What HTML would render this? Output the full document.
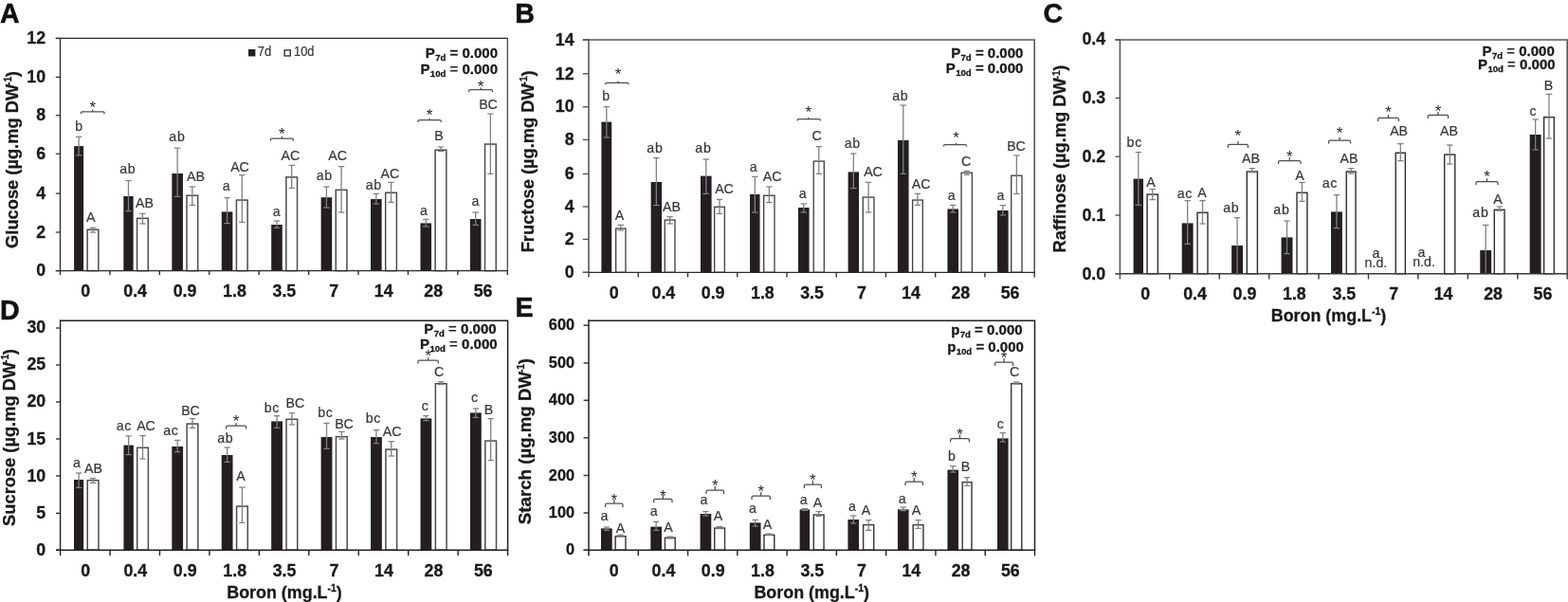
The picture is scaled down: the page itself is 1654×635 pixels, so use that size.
<!DOCTYPE html>
<html lang="en">
<head>
<meta charset="utf-8">
<title>Soluble sugars and starch under boron treatments</title>
<style>
html,body{margin:0;padding:0;background:#fff;}
body{width:1654px;height:635px;overflow:hidden;}
svg{display:block;font-family:"Liberation Sans",Arial,Helvetica,sans-serif;}
</style>
</head>
<body>
<svg width="1654" height="635" viewBox="0 0 1654 635">
<rect width="1654" height="635" fill="#fff"/>
<g>
<rect x="78.1" y="154.1" width="10" height="131.5" fill="#231f20"/>
<line x1="83.1" y1="144.3" x2="83.1" y2="163.8" stroke="#7f7f85" stroke-width="1.3"/>
<line x1="79.9" y1="144.3" x2="86.3" y2="144.3" stroke="#7f7f85" stroke-width="1.25"/>
<line x1="79.9" y1="163.8" x2="86.3" y2="163.8" stroke="#7f7f85" stroke-width="1.25"/>
<rect x="92.15" y="242.25" width="11.7" height="43.35" fill="#fff" stroke="#4c4c4e" stroke-width="1.5"/>
<line x1="98" y1="240.2" x2="98" y2="245" stroke="#7f7f85" stroke-width="1.3"/>
<line x1="94.8" y1="240.2" x2="101.2" y2="240.2" stroke="#7f7f85" stroke-width="1.25"/>
<line x1="94.8" y1="245" x2="101.2" y2="245" stroke="#7f7f85" stroke-width="1.25"/>
<rect x="130.32" y="207" width="10.3" height="78.6" fill="#231f20"/>
<line x1="135.47" y1="190.5" x2="135.47" y2="222.6" stroke="#7f7f85" stroke-width="1.3"/>
<line x1="132.27" y1="190.5" x2="138.67" y2="190.5" stroke="#7f7f85" stroke-width="1.25"/>
<line x1="132.27" y1="222.6" x2="138.67" y2="222.6" stroke="#7f7f85" stroke-width="1.25"/>
<rect x="144.57" y="230.35" width="11.7" height="55.25" fill="#fff" stroke="#4c4c4e" stroke-width="1.5"/>
<line x1="150.42" y1="225.3" x2="150.42" y2="236" stroke="#7f7f85" stroke-width="1.3"/>
<line x1="147.22" y1="225.3" x2="153.62" y2="225.3" stroke="#7f7f85" stroke-width="1.25"/>
<line x1="147.22" y1="236" x2="153.62" y2="236" stroke="#7f7f85" stroke-width="1.25"/>
<rect x="181.34" y="183" width="11.6" height="102.6" fill="#231f20"/>
<line x1="187.14" y1="156.2" x2="187.14" y2="207.4" stroke="#7f7f85" stroke-width="1.3"/>
<line x1="183.94" y1="156.2" x2="190.34" y2="156.2" stroke="#7f7f85" stroke-width="1.25"/>
<line x1="183.94" y1="207.4" x2="190.34" y2="207.4" stroke="#7f7f85" stroke-width="1.25"/>
<rect x="196.99" y="206.25" width="11.7" height="79.35" fill="#fff" stroke="#4c4c4e" stroke-width="1.5"/>
<line x1="202.84" y1="197" x2="202.84" y2="216.4" stroke="#7f7f85" stroke-width="1.3"/>
<line x1="199.64" y1="197" x2="206.04" y2="197" stroke="#7f7f85" stroke-width="1.25"/>
<line x1="199.64" y1="216.4" x2="206.04" y2="216.4" stroke="#7f7f85" stroke-width="1.25"/>
<rect x="233.77" y="223.4" width="11.6" height="62.2" fill="#231f20"/>
<line x1="239.57" y1="208.6" x2="239.57" y2="235.6" stroke="#7f7f85" stroke-width="1.3"/>
<line x1="236.37" y1="208.6" x2="242.77" y2="208.6" stroke="#7f7f85" stroke-width="1.25"/>
<line x1="236.37" y1="235.6" x2="242.77" y2="235.6" stroke="#7f7f85" stroke-width="1.25"/>
<rect x="249.42" y="211.05" width="11.7" height="74.55" fill="#fff" stroke="#4c4c4e" stroke-width="1.5"/>
<line x1="255.27" y1="184.6" x2="255.27" y2="234.4" stroke="#7f7f85" stroke-width="1.3"/>
<line x1="252.07" y1="184.6" x2="258.47" y2="184.6" stroke="#7f7f85" stroke-width="1.25"/>
<line x1="252.07" y1="234.4" x2="258.47" y2="234.4" stroke="#7f7f85" stroke-width="1.25"/>
<rect x="286.19" y="237" width="11.6" height="48.6" fill="#231f20"/>
<line x1="291.99" y1="233" x2="291.99" y2="240.4" stroke="#7f7f85" stroke-width="1.3"/>
<line x1="288.79" y1="233" x2="295.19" y2="233" stroke="#7f7f85" stroke-width="1.25"/>
<line x1="288.79" y1="240.4" x2="295.19" y2="240.4" stroke="#7f7f85" stroke-width="1.25"/>
<rect x="301.84" y="186.85" width="11.7" height="98.75" fill="#fff" stroke="#4c4c4e" stroke-width="1.5"/>
<line x1="307.69" y1="174.4" x2="307.69" y2="198.4" stroke="#7f7f85" stroke-width="1.3"/>
<line x1="304.49" y1="174.4" x2="310.89" y2="174.4" stroke="#7f7f85" stroke-width="1.25"/>
<line x1="304.49" y1="198.4" x2="310.89" y2="198.4" stroke="#7f7f85" stroke-width="1.25"/>
<rect x="338.61" y="208.2" width="11.6" height="77.4" fill="#231f20"/>
<line x1="344.41" y1="197" x2="344.41" y2="219" stroke="#7f7f85" stroke-width="1.3"/>
<line x1="341.21" y1="197" x2="347.61" y2="197" stroke="#7f7f85" stroke-width="1.25"/>
<line x1="341.21" y1="219" x2="347.61" y2="219" stroke="#7f7f85" stroke-width="1.25"/>
<rect x="354.26" y="200.35" width="11.7" height="85.25" fill="#fff" stroke="#4c4c4e" stroke-width="1.5"/>
<line x1="360.11" y1="175.6" x2="360.11" y2="224" stroke="#7f7f85" stroke-width="1.3"/>
<line x1="356.91" y1="175.6" x2="363.31" y2="175.6" stroke="#7f7f85" stroke-width="1.25"/>
<line x1="356.91" y1="224" x2="363.31" y2="224" stroke="#7f7f85" stroke-width="1.25"/>
<rect x="391.03" y="210" width="11.6" height="75.6" fill="#231f20"/>
<line x1="396.83" y1="204.4" x2="396.83" y2="215" stroke="#7f7f85" stroke-width="1.3"/>
<line x1="393.63" y1="204.4" x2="400.03" y2="204.4" stroke="#7f7f85" stroke-width="1.25"/>
<line x1="393.63" y1="215" x2="400.03" y2="215" stroke="#7f7f85" stroke-width="1.25"/>
<rect x="406.68" y="203.25" width="11.7" height="82.35" fill="#fff" stroke="#4c4c4e" stroke-width="1.5"/>
<line x1="412.53" y1="192.4" x2="412.53" y2="213.4" stroke="#7f7f85" stroke-width="1.3"/>
<line x1="409.33" y1="192.4" x2="415.73" y2="192.4" stroke="#7f7f85" stroke-width="1.25"/>
<line x1="409.33" y1="213.4" x2="415.73" y2="213.4" stroke="#7f7f85" stroke-width="1.25"/>
<rect x="443.46" y="235.4" width="11.6" height="50.2" fill="#231f20"/>
<line x1="449.26" y1="231.4" x2="449.26" y2="239" stroke="#7f7f85" stroke-width="1.3"/>
<line x1="446.06" y1="231.4" x2="452.46" y2="231.4" stroke="#7f7f85" stroke-width="1.25"/>
<line x1="446.06" y1="239" x2="452.46" y2="239" stroke="#7f7f85" stroke-width="1.25"/>
<rect x="459.11" y="158.25" width="11.7" height="127.35" fill="#fff" stroke="#4c4c4e" stroke-width="1.5"/>
<line x1="464.96" y1="155" x2="464.96" y2="159.6" stroke="#7f7f85" stroke-width="1.3"/>
<line x1="461.76" y1="155" x2="468.16" y2="155" stroke="#7f7f85" stroke-width="1.25"/>
<line x1="461.76" y1="159.6" x2="468.16" y2="159.6" stroke="#7f7f85" stroke-width="1.25"/>
<rect x="495.88" y="231" width="11.6" height="54.6" fill="#231f20"/>
<line x1="501.68" y1="224" x2="501.68" y2="237.4" stroke="#7f7f85" stroke-width="1.3"/>
<line x1="498.48" y1="224" x2="504.88" y2="224" stroke="#7f7f85" stroke-width="1.25"/>
<line x1="498.48" y1="237.4" x2="504.88" y2="237.4" stroke="#7f7f85" stroke-width="1.25"/>
<rect x="511.53" y="152.05" width="11.7" height="133.55" fill="#fff" stroke="#4c4c4e" stroke-width="1.5"/>
<line x1="517.38" y1="120" x2="517.38" y2="183.4" stroke="#7f7f85" stroke-width="1.3"/>
<line x1="514.18" y1="120" x2="520.58" y2="120" stroke="#7f7f85" stroke-width="1.25"/>
<line x1="514.18" y1="183.4" x2="520.58" y2="183.4" stroke="#7f7f85" stroke-width="1.25"/>
<path d="M58.8 40.4 H535.3 V285.6" fill="none" stroke="#2b2b2b" stroke-width="1.1"/>
<line x1="63.5" y1="39.85" x2="63.5" y2="290" stroke="#2b2b2b" stroke-width="1.35"/>
<line x1="58.8" y1="285.6" x2="535.85" y2="285.6" stroke="#2b2b2b" stroke-width="1.35"/>
<line x1="115.92" y1="285.6" x2="115.92" y2="290" stroke="#2b2b2b" stroke-width="1.35"/>
<line x1="168.34" y1="285.6" x2="168.34" y2="290" stroke="#2b2b2b" stroke-width="1.35"/>
<line x1="220.77" y1="285.6" x2="220.77" y2="290" stroke="#2b2b2b" stroke-width="1.35"/>
<line x1="273.19" y1="285.6" x2="273.19" y2="290" stroke="#2b2b2b" stroke-width="1.35"/>
<line x1="325.61" y1="285.6" x2="325.61" y2="290" stroke="#2b2b2b" stroke-width="1.35"/>
<line x1="378.03" y1="285.6" x2="378.03" y2="290" stroke="#2b2b2b" stroke-width="1.35"/>
<line x1="430.46" y1="285.6" x2="430.46" y2="290" stroke="#2b2b2b" stroke-width="1.35"/>
<line x1="482.88" y1="285.6" x2="482.88" y2="290" stroke="#2b2b2b" stroke-width="1.35"/>
<line x1="535.3" y1="285.6" x2="535.3" y2="290" stroke="#2b2b2b" stroke-width="1.35"/>
<line x1="58.8" y1="285.6" x2="63.5" y2="285.6" stroke="#2b2b2b" stroke-width="1.22"/>
<text x="48.1" y="291.2" font-size="17.8" text-anchor="end" font-weight="bold" fill="#1a1a1a" stroke="#1a1a1a" stroke-width="0.3">0</text>
<line x1="58.8" y1="245" x2="63.5" y2="245" stroke="#2b2b2b" stroke-width="1.22"/>
<text x="48.1" y="250.6" font-size="17.8" text-anchor="end" font-weight="bold" fill="#1a1a1a" stroke="#1a1a1a" stroke-width="0.3">2</text>
<line x1="58.8" y1="204.1" x2="63.5" y2="204.1" stroke="#2b2b2b" stroke-width="1.22"/>
<text x="48.1" y="209.7" font-size="17.8" text-anchor="end" font-weight="bold" fill="#1a1a1a" stroke="#1a1a1a" stroke-width="0.3">4</text>
<line x1="58.8" y1="162.2" x2="63.5" y2="162.2" stroke="#2b2b2b" stroke-width="1.22"/>
<text x="48.1" y="167.8" font-size="17.8" text-anchor="end" font-weight="bold" fill="#1a1a1a" stroke="#1a1a1a" stroke-width="0.3">6</text>
<line x1="58.8" y1="121.7" x2="63.5" y2="121.7" stroke="#2b2b2b" stroke-width="1.22"/>
<text x="48.1" y="127.3" font-size="17.8" text-anchor="end" font-weight="bold" fill="#1a1a1a" stroke="#1a1a1a" stroke-width="0.3">8</text>
<line x1="58.8" y1="81.4" x2="63.5" y2="81.4" stroke="#2b2b2b" stroke-width="1.22"/>
<text x="48.1" y="87" font-size="17.8" text-anchor="end" font-weight="bold" fill="#1a1a1a" stroke="#1a1a1a" stroke-width="0.3">10</text>
<line x1="58.8" y1="40.5" x2="63.5" y2="40.5" stroke="#2b2b2b" stroke-width="1.22"/>
<text x="48.1" y="46.1" font-size="17.8" text-anchor="end" font-weight="bold" fill="#1a1a1a" stroke="#1a1a1a" stroke-width="0.3">12</text>
<text x="90.21" y="313.4" font-size="17.8" text-anchor="middle" font-weight="bold" fill="#1a1a1a" stroke="#1a1a1a" stroke-width="0.3">0</text>
<text x="142.63" y="313.4" font-size="17.8" text-anchor="middle" font-weight="bold" fill="#1a1a1a" stroke="#1a1a1a" stroke-width="0.3">0.4</text>
<text x="195.06" y="313.4" font-size="17.8" text-anchor="middle" font-weight="bold" fill="#1a1a1a" stroke="#1a1a1a" stroke-width="0.3">0.9</text>
<text x="247.48" y="313.4" font-size="17.8" text-anchor="middle" font-weight="bold" fill="#1a1a1a" stroke="#1a1a1a" stroke-width="0.3">1.8</text>
<text x="299.9" y="313.4" font-size="17.8" text-anchor="middle" font-weight="bold" fill="#1a1a1a" stroke="#1a1a1a" stroke-width="0.3">3.5</text>
<text x="352.32" y="313.4" font-size="17.8" text-anchor="middle" font-weight="bold" fill="#1a1a1a" stroke="#1a1a1a" stroke-width="0.3">7</text>
<text x="404.74" y="313.4" font-size="17.8" text-anchor="middle" font-weight="bold" fill="#1a1a1a" stroke="#1a1a1a" stroke-width="0.3">14</text>
<text x="457.17" y="313.4" font-size="17.8" text-anchor="middle" font-weight="bold" fill="#1a1a1a" stroke="#1a1a1a" stroke-width="0.3">28</text>
<text x="509.59" y="313.4" font-size="17.8" text-anchor="middle" font-weight="bold" fill="#1a1a1a" stroke="#1a1a1a" stroke-width="0.3">56</text>
<text transform="translate(19.1 168.5) rotate(-90)" font-size="18.3" font-weight="bold" text-anchor="middle" fill="#1a1a1a" stroke="#1a1a1a" stroke-width="0.3">Glucose (µg.mg DW<tspan font-size="10.4" dx="-1.2" dy="-6.8">-1</tspan><tspan dy="6.8" dx="-0.4">)</tspan></text>
<text x="0" y="23.8" font-size="28.6" text-anchor="start" font-weight="bold" fill="#111" stroke="#111" stroke-width="0.5">A</text>
<text x="525" y="60.7" font-size="15" text-anchor="end" font-weight="bold" fill="#1a1a1a" stroke="#1a1a1a" stroke-width="0.3">P<tspan font-size="9.6" dx="0.4" dy="3">7d</tspan><tspan dy="-3"> =</tspan> 0.000</text>
<text x="525" y="77.5" font-size="15" text-anchor="end" font-weight="bold" fill="#1a1a1a" stroke="#1a1a1a" stroke-width="0.3">P<tspan font-size="9.6" dx="0.4" dy="3">10d</tspan><tspan dy="-3" font-weight="normal"> =</tspan> 0.000</text>
<text x="83.1" y="137.7" font-size="14.2" text-anchor="middle" fill="#383838" stroke="#383838" stroke-width="0.2">b</text>
<text x="95.7" y="233.6" font-size="14.2" text-anchor="middle" fill="#383838" stroke="#383838" stroke-width="0.2">A</text>
<text x="134.75" y="182.6" font-size="14.2" text-anchor="middle" fill="#383838" stroke="#383838" stroke-width="0.2" letter-spacing="0.7">ab</text>
<text x="152.5" y="219.4" font-size="14.2" text-anchor="middle" fill="#383838" stroke="#383838" stroke-width="0.2">AB</text>
<text x="186.95" y="149" font-size="14.2" text-anchor="middle" fill="#383838" stroke="#383838" stroke-width="0.2" letter-spacing="0.7">ab</text>
<text x="206.4" y="191" font-size="14.2" text-anchor="middle" fill="#383838" stroke="#383838" stroke-width="0.2">AB</text>
<text x="238.6" y="200.6" font-size="14.2" text-anchor="middle" fill="#383838" stroke="#383838" stroke-width="0.2">a</text>
<text x="253" y="181" font-size="14.2" text-anchor="middle" fill="#383838" stroke="#383838" stroke-width="0.2">AC</text>
<text x="291.6" y="227.6" font-size="14.2" text-anchor="middle" fill="#383838" stroke="#383838" stroke-width="0.2">a</text>
<text x="306.4" y="168.5" font-size="14.2" text-anchor="middle" fill="#383838" stroke="#383838" stroke-width="0.2">AC</text>
<text x="342.35" y="189.5" font-size="14.2" text-anchor="middle" fill="#383838" stroke="#383838" stroke-width="0.2" letter-spacing="0.7">ab</text>
<text x="356.2" y="168.5" font-size="14.2" text-anchor="middle" fill="#383838" stroke="#383838" stroke-width="0.2">AC</text>
<text x="394.35" y="200.4" font-size="14.2" text-anchor="middle" fill="#383838" stroke="#383838" stroke-width="0.2" letter-spacing="0.7">ab</text>
<text x="411.4" y="188" font-size="14.2" text-anchor="middle" fill="#383838" stroke="#383838" stroke-width="0.2">AC</text>
<text x="447" y="227.4" font-size="14.2" text-anchor="middle" fill="#383838" stroke="#383838" stroke-width="0.2">a</text>
<text x="463" y="148.4" font-size="14.2" text-anchor="middle" fill="#383838" stroke="#383838" stroke-width="0.2">B</text>
<text x="501.4" y="216.6" font-size="14.2" text-anchor="middle" fill="#383838" stroke="#383838" stroke-width="0.2">a</text>
<text x="515" y="114.6" font-size="14.2" text-anchor="middle" fill="#383838" stroke="#383838" stroke-width="0.2">BC</text>
<path d="M85.4 120.2 V119.2 Q85.4 117.8 86.8 117.8 L108.7 117.8 Q110.1 117.8 110.1 119.2 V120.2" fill="none" stroke="#4e4e4e" stroke-width="1.25"/>
<line x1="97.75" y1="117.8" x2="97.75" y2="115.6" stroke="#4e4e4e" stroke-width="1.25"/>
<text x="97.75" y="119.08" font-size="17" text-anchor="middle" fill="#262626">*</text>
<path d="M285.4 148.4 V147.4 Q285.4 146 286.8 146 L308 146 Q309.4 146 309.4 147.4 V148.4" fill="none" stroke="#4e4e4e" stroke-width="1.25"/>
<line x1="297.4" y1="146" x2="297.4" y2="143.8" stroke="#4e4e4e" stroke-width="1.25"/>
<text x="297.4" y="147.07" font-size="17" text-anchor="middle" fill="#262626">*</text>
<path d="M441 129 V128 Q441 126.6 442.4 126.6 L463.8 126.6 Q465.2 126.6 465.2 128 V129" fill="none" stroke="#4e4e4e" stroke-width="1.25"/>
<line x1="453.1" y1="126.6" x2="453.1" y2="124.4" stroke="#4e4e4e" stroke-width="1.25"/>
<text x="453.1" y="127.08" font-size="17" text-anchor="middle" fill="#262626">*</text>
<path d="M494.6 96.9 V95.9 Q494.6 94.5 496 94.5 L518.1 94.5 Q519.5 94.5 519.5 95.9 V96.9" fill="none" stroke="#4e4e4e" stroke-width="1.25"/>
<line x1="507.05" y1="94.5" x2="507.05" y2="92.3" stroke="#4e4e4e" stroke-width="1.25"/>
<text x="507.05" y="96.98" font-size="17" text-anchor="middle" fill="#262626">*</text>
<rect x="262" y="52" width="7.4" height="7.4" fill="#231f20"/>
<text x="271.7" y="58.9" font-size="13.8" text-anchor="start" fill="#383838" stroke="#383838" stroke-width="0.2" textLength="14.6" lengthAdjust="spacingAndGlyphs">7d</text>
<rect x="300.15" y="52.85" width="6.1" height="6.1" fill="#fff" stroke="#333" stroke-width="1.4"/>
<text x="310" y="58.9" font-size="13.8" text-anchor="start" fill="#383838" stroke="#383838" stroke-width="0.2" textLength="21.4" lengthAdjust="spacingAndGlyphs">10d</text>
</g>
<g>
<rect x="634.4" y="128.6" width="10.8" height="158.7" fill="#231f20"/>
<line x1="639.8" y1="112.6" x2="639.8" y2="145" stroke="#7f7f85" stroke-width="1.3"/>
<line x1="636.6" y1="112.6" x2="643" y2="112.6" stroke="#7f7f85" stroke-width="1.25"/>
<line x1="636.6" y1="145" x2="643" y2="145" stroke="#7f7f85" stroke-width="1.25"/>
<rect x="649.65" y="241.05" width="10.3" height="46.25" fill="#fff" stroke="#444446" stroke-width="1.35"/>
<line x1="654.8" y1="237.4" x2="654.8" y2="243" stroke="#7f7f85" stroke-width="1.3"/>
<line x1="651.6" y1="237.4" x2="658" y2="237.4" stroke="#7f7f85" stroke-width="1.25"/>
<line x1="651.6" y1="243" x2="658" y2="243" stroke="#7f7f85" stroke-width="1.25"/>
<rect x="686.64" y="192" width="11.4" height="95.3" fill="#231f20"/>
<line x1="692.34" y1="166.6" x2="692.34" y2="216.6" stroke="#7f7f85" stroke-width="1.3"/>
<line x1="689.14" y1="166.6" x2="695.54" y2="166.6" stroke="#7f7f85" stroke-width="1.25"/>
<line x1="689.14" y1="216.6" x2="695.54" y2="216.6" stroke="#7f7f85" stroke-width="1.25"/>
<rect x="701.29" y="232.05" width="10.7" height="55.25" fill="#fff" stroke="#444446" stroke-width="1.35"/>
<line x1="706.64" y1="228.6" x2="706.64" y2="236" stroke="#7f7f85" stroke-width="1.3"/>
<line x1="703.44" y1="228.6" x2="709.84" y2="228.6" stroke="#7f7f85" stroke-width="1.25"/>
<line x1="703.44" y1="236" x2="709.84" y2="236" stroke="#7f7f85" stroke-width="1.25"/>
<rect x="738.99" y="185.6" width="11.6" height="101.7" fill="#231f20"/>
<line x1="744.79" y1="168" x2="744.79" y2="204.4" stroke="#7f7f85" stroke-width="1.3"/>
<line x1="741.59" y1="168" x2="747.99" y2="168" stroke="#7f7f85" stroke-width="1.25"/>
<line x1="741.59" y1="204.4" x2="747.99" y2="204.4" stroke="#7f7f85" stroke-width="1.25"/>
<rect x="753.64" y="218.25" width="10.7" height="69.05" fill="#fff" stroke="#444446" stroke-width="1.35"/>
<line x1="758.99" y1="210.4" x2="758.99" y2="225.4" stroke="#7f7f85" stroke-width="1.3"/>
<line x1="755.79" y1="210.4" x2="762.19" y2="210.4" stroke="#7f7f85" stroke-width="1.25"/>
<line x1="755.79" y1="225.4" x2="762.19" y2="225.4" stroke="#7f7f85" stroke-width="1.25"/>
<rect x="791.03" y="205" width="10.5" height="82.3" fill="#231f20"/>
<line x1="796.28" y1="186.4" x2="796.28" y2="224" stroke="#7f7f85" stroke-width="1.3"/>
<line x1="793.08" y1="186.4" x2="799.48" y2="186.4" stroke="#7f7f85" stroke-width="1.25"/>
<line x1="793.08" y1="224" x2="799.48" y2="224" stroke="#7f7f85" stroke-width="1.25"/>
<rect x="805.68" y="206.25" width="11.3" height="81.05" fill="#fff" stroke="#444446" stroke-width="1.35"/>
<line x1="811.33" y1="197" x2="811.33" y2="213.6" stroke="#7f7f85" stroke-width="1.3"/>
<line x1="808.13" y1="197" x2="814.53" y2="197" stroke="#7f7f85" stroke-width="1.25"/>
<line x1="808.13" y1="213.6" x2="814.53" y2="213.6" stroke="#7f7f85" stroke-width="1.25"/>
<rect x="841.98" y="219" width="11.6" height="68.3" fill="#231f20"/>
<line x1="847.78" y1="215" x2="847.78" y2="224" stroke="#7f7f85" stroke-width="1.3"/>
<line x1="844.58" y1="215" x2="850.98" y2="215" stroke="#7f7f85" stroke-width="1.25"/>
<line x1="844.58" y1="224" x2="850.98" y2="224" stroke="#7f7f85" stroke-width="1.25"/>
<rect x="858.23" y="170.05" width="11.1" height="117.25" fill="#fff" stroke="#444446" stroke-width="1.35"/>
<line x1="863.78" y1="154.6" x2="863.78" y2="183.4" stroke="#7f7f85" stroke-width="1.3"/>
<line x1="860.58" y1="154.6" x2="866.98" y2="154.6" stroke="#7f7f85" stroke-width="1.25"/>
<line x1="860.58" y1="183.4" x2="866.98" y2="183.4" stroke="#7f7f85" stroke-width="1.25"/>
<rect x="894.62" y="181.4" width="11.4" height="105.9" fill="#231f20"/>
<line x1="900.32" y1="162" x2="900.32" y2="198.6" stroke="#7f7f85" stroke-width="1.3"/>
<line x1="897.12" y1="162" x2="903.52" y2="162" stroke="#7f7f85" stroke-width="1.25"/>
<line x1="897.12" y1="198.6" x2="903.52" y2="198.6" stroke="#7f7f85" stroke-width="1.25"/>
<rect x="910.27" y="208.05" width="11.7" height="79.25" fill="#fff" stroke="#444446" stroke-width="1.35"/>
<line x1="916.12" y1="192.4" x2="916.12" y2="224" stroke="#7f7f85" stroke-width="1.3"/>
<line x1="912.92" y1="192.4" x2="919.32" y2="192.4" stroke="#7f7f85" stroke-width="1.25"/>
<line x1="912.92" y1="224" x2="919.32" y2="224" stroke="#7f7f85" stroke-width="1.25"/>
<rect x="946.97" y="148" width="11.6" height="139.3" fill="#231f20"/>
<line x1="952.77" y1="111" x2="952.77" y2="183.4" stroke="#7f7f85" stroke-width="1.3"/>
<line x1="949.57" y1="111" x2="955.97" y2="111" stroke="#7f7f85" stroke-width="1.25"/>
<line x1="949.57" y1="183.4" x2="955.97" y2="183.4" stroke="#7f7f85" stroke-width="1.25"/>
<rect x="962.62" y="211.05" width="10.7" height="76.25" fill="#fff" stroke="#444446" stroke-width="1.35"/>
<line x1="967.97" y1="204.4" x2="967.97" y2="216.4" stroke="#7f7f85" stroke-width="1.3"/>
<line x1="964.77" y1="204.4" x2="971.17" y2="204.4" stroke="#7f7f85" stroke-width="1.25"/>
<line x1="964.77" y1="216.4" x2="971.17" y2="216.4" stroke="#7f7f85" stroke-width="1.25"/>
<rect x="999.41" y="220.4" width="11.6" height="66.9" fill="#231f20"/>
<line x1="1005.21" y1="216.4" x2="1005.21" y2="224" stroke="#7f7f85" stroke-width="1.3"/>
<line x1="1002.01" y1="216.4" x2="1008.41" y2="216.4" stroke="#7f7f85" stroke-width="1.25"/>
<line x1="1002.01" y1="224" x2="1008.41" y2="224" stroke="#7f7f85" stroke-width="1.25"/>
<rect x="1014.06" y="182.25" width="11.3" height="105.05" fill="#fff" stroke="#444446" stroke-width="1.35"/>
<line x1="1019.71" y1="180.4" x2="1019.71" y2="184.4" stroke="#7f7f85" stroke-width="1.3"/>
<line x1="1016.51" y1="180.4" x2="1022.91" y2="180.4" stroke="#7f7f85" stroke-width="1.25"/>
<line x1="1016.51" y1="184.4" x2="1022.91" y2="184.4" stroke="#7f7f85" stroke-width="1.25"/>
<rect x="1052.06" y="222" width="11.6" height="65.3" fill="#231f20"/>
<line x1="1057.86" y1="216.6" x2="1057.86" y2="227" stroke="#7f7f85" stroke-width="1.3"/>
<line x1="1054.66" y1="216.6" x2="1061.06" y2="216.6" stroke="#7f7f85" stroke-width="1.25"/>
<line x1="1054.66" y1="227" x2="1061.06" y2="227" stroke="#7f7f85" stroke-width="1.25"/>
<rect x="1066.71" y="185.25" width="11.3" height="102.05" fill="#fff" stroke="#444446" stroke-width="1.35"/>
<line x1="1072.36" y1="164" x2="1072.36" y2="204.4" stroke="#7f7f85" stroke-width="1.3"/>
<line x1="1069.16" y1="164" x2="1075.56" y2="164" stroke="#7f7f85" stroke-width="1.25"/>
<line x1="1069.16" y1="204.4" x2="1075.56" y2="204.4" stroke="#7f7f85" stroke-width="1.25"/>
<path d="M614.8 42 H1091.2 V287.3" fill="none" stroke="#58585a" stroke-width="1.6"/>
<line x1="621" y1="41.2" x2="621" y2="292.4" stroke="#58585a" stroke-width="1.6"/>
<line x1="614.8" y1="287.3" x2="1092" y2="287.3" stroke="#2b2b2b" stroke-width="1.3"/>
<line x1="673.24" y1="287.3" x2="673.24" y2="292.4" stroke="#2b2b2b" stroke-width="1.3"/>
<line x1="725.49" y1="287.3" x2="725.49" y2="292.4" stroke="#2b2b2b" stroke-width="1.3"/>
<line x1="777.73" y1="287.3" x2="777.73" y2="292.4" stroke="#2b2b2b" stroke-width="1.3"/>
<line x1="829.98" y1="287.3" x2="829.98" y2="292.4" stroke="#2b2b2b" stroke-width="1.3"/>
<line x1="882.22" y1="287.3" x2="882.22" y2="292.4" stroke="#2b2b2b" stroke-width="1.3"/>
<line x1="934.47" y1="287.3" x2="934.47" y2="292.4" stroke="#2b2b2b" stroke-width="1.3"/>
<line x1="986.71" y1="287.3" x2="986.71" y2="292.4" stroke="#2b2b2b" stroke-width="1.3"/>
<line x1="1038.96" y1="287.3" x2="1038.96" y2="292.4" stroke="#2b2b2b" stroke-width="1.3"/>
<line x1="1091.2" y1="287.3" x2="1091.2" y2="292.4" stroke="#2b2b2b" stroke-width="1.3"/>
<line x1="614.8" y1="287.3" x2="621" y2="287.3" stroke="#58585a" stroke-width="1.44"/>
<text x="605.6" y="293" font-size="17.8" text-anchor="end" font-weight="bold" fill="#1a1a1a" stroke="#1a1a1a" stroke-width="0.3">0</text>
<line x1="614.8" y1="252.4" x2="621" y2="252.4" stroke="#58585a" stroke-width="1.44"/>
<text x="605.6" y="258.1" font-size="17.8" text-anchor="end" font-weight="bold" fill="#1a1a1a" stroke="#1a1a1a" stroke-width="0.3">2</text>
<line x1="614.8" y1="218" x2="621" y2="218" stroke="#58585a" stroke-width="1.44"/>
<text x="605.6" y="223.7" font-size="17.8" text-anchor="end" font-weight="bold" fill="#1a1a1a" stroke="#1a1a1a" stroke-width="0.3">4</text>
<line x1="614.8" y1="183.4" x2="621" y2="183.4" stroke="#58585a" stroke-width="1.44"/>
<text x="605.6" y="189.1" font-size="17.8" text-anchor="end" font-weight="bold" fill="#1a1a1a" stroke="#1a1a1a" stroke-width="0.3">6</text>
<line x1="614.8" y1="147.4" x2="621" y2="147.4" stroke="#58585a" stroke-width="1.44"/>
<text x="605.6" y="153.1" font-size="17.8" text-anchor="end" font-weight="bold" fill="#1a1a1a" stroke="#1a1a1a" stroke-width="0.3">8</text>
<line x1="614.8" y1="112.7" x2="621" y2="112.7" stroke="#58585a" stroke-width="1.44"/>
<text x="605.6" y="118.4" font-size="17.8" text-anchor="end" font-weight="bold" fill="#1a1a1a" stroke="#1a1a1a" stroke-width="0.3">10</text>
<line x1="614.8" y1="77.8" x2="621" y2="77.8" stroke="#58585a" stroke-width="1.44"/>
<text x="605.6" y="83.5" font-size="17.8" text-anchor="end" font-weight="bold" fill="#1a1a1a" stroke="#1a1a1a" stroke-width="0.3">12</text>
<line x1="614.8" y1="42" x2="621" y2="42" stroke="#58585a" stroke-width="1.44"/>
<text x="605.6" y="47.7" font-size="17.8" text-anchor="end" font-weight="bold" fill="#1a1a1a" stroke="#1a1a1a" stroke-width="0.3">14</text>
<text x="647.62" y="314.9" font-size="17.8" text-anchor="middle" font-weight="bold" fill="#1a1a1a" stroke="#1a1a1a" stroke-width="0.3">0</text>
<text x="699.87" y="314.9" font-size="17.8" text-anchor="middle" font-weight="bold" fill="#1a1a1a" stroke="#1a1a1a" stroke-width="0.3">0.4</text>
<text x="752.11" y="314.9" font-size="17.8" text-anchor="middle" font-weight="bold" fill="#1a1a1a" stroke="#1a1a1a" stroke-width="0.3">0.9</text>
<text x="804.36" y="314.9" font-size="17.8" text-anchor="middle" font-weight="bold" fill="#1a1a1a" stroke="#1a1a1a" stroke-width="0.3">1.8</text>
<text x="856.6" y="314.9" font-size="17.8" text-anchor="middle" font-weight="bold" fill="#1a1a1a" stroke="#1a1a1a" stroke-width="0.3">3.5</text>
<text x="908.84" y="314.9" font-size="17.8" text-anchor="middle" font-weight="bold" fill="#1a1a1a" stroke="#1a1a1a" stroke-width="0.3">7</text>
<text x="961.09" y="314.9" font-size="17.8" text-anchor="middle" font-weight="bold" fill="#1a1a1a" stroke="#1a1a1a" stroke-width="0.3">14</text>
<text x="1013.33" y="314.9" font-size="17.8" text-anchor="middle" font-weight="bold" fill="#1a1a1a" stroke="#1a1a1a" stroke-width="0.3">28</text>
<text x="1065.58" y="314.9" font-size="17.8" text-anchor="middle" font-weight="bold" fill="#1a1a1a" stroke="#1a1a1a" stroke-width="0.3">56</text>
<text transform="translate(563 170.4) rotate(-90)" font-size="18.3" font-weight="bold" text-anchor="middle" fill="#1a1a1a" stroke="#1a1a1a" stroke-width="0.3">Fructose (µg.mg DW<tspan font-size="10.4" dx="-1.2" dy="-6.8">-1</tspan><tspan dy="6.8" dx="-0.4">)</tspan></text>
<text x="543.2" y="24.4" font-size="28.6" text-anchor="start" font-weight="bold" fill="#111" stroke="#111" stroke-width="0.5">B</text>
<text x="1079.4" y="60.6" font-size="15" text-anchor="end" font-weight="bold" fill="#1a1a1a" stroke="#1a1a1a" stroke-width="0.3">P<tspan font-size="9.6" dx="0.4" dy="3">7d</tspan><tspan dy="-3"> =</tspan> 0.000</text>
<text x="1079.4" y="77.4" font-size="15" text-anchor="end" font-weight="bold" fill="#1a1a1a" stroke="#1a1a1a" stroke-width="0.3">P<tspan font-size="9.6" dx="0.4" dy="3">10d</tspan><tspan dy="-3"> =</tspan> 0.000</text>
<text x="639.2" y="106" font-size="14.2" text-anchor="middle" fill="#383838" stroke="#383838" stroke-width="0.2">b</text>
<text x="653.6" y="231.6" font-size="14.2" text-anchor="middle" fill="#383838" stroke="#383838" stroke-width="0.2">A</text>
<text x="690.95" y="161.4" font-size="14.2" text-anchor="middle" fill="#383838" stroke="#383838" stroke-width="0.2" letter-spacing="0.7">ab</text>
<text x="708.4" y="222.6" font-size="14.2" text-anchor="middle" fill="#383838" stroke="#383838" stroke-width="0.2">AB</text>
<text x="741.95" y="161.4" font-size="14.2" text-anchor="middle" fill="#383838" stroke="#383838" stroke-width="0.2" letter-spacing="0.7">ab</text>
<text x="764" y="204.4" font-size="14.2" text-anchor="middle" fill="#383838" stroke="#383838" stroke-width="0.2">AC</text>
<text x="794.6" y="181" font-size="14.2" text-anchor="middle" fill="#383838" stroke="#383838" stroke-width="0.2">a</text>
<text x="814.6" y="191" font-size="14.2" text-anchor="middle" fill="#383838" stroke="#383838" stroke-width="0.2">AC</text>
<text x="846.6" y="209" font-size="14.2" text-anchor="middle" fill="#383838" stroke="#383838" stroke-width="0.2">a</text>
<text x="861.6" y="147.6" font-size="14.2" text-anchor="middle" fill="#383838" stroke="#383838" stroke-width="0.2">C</text>
<text x="899.35" y="155.6" font-size="14.2" text-anchor="middle" fill="#383838" stroke="#383838" stroke-width="0.2" letter-spacing="0.7">ab</text>
<text x="921" y="185.6" font-size="14.2" text-anchor="middle" fill="#383838" stroke="#383838" stroke-width="0.2">AC</text>
<text x="949.75" y="106" font-size="14.2" text-anchor="middle" fill="#383838" stroke="#383838" stroke-width="0.2" letter-spacing="0.7">ab</text>
<text x="971.6" y="198.6" font-size="14.2" text-anchor="middle" fill="#383838" stroke="#383838" stroke-width="0.2">AC</text>
<text x="1003.6" y="211" font-size="14.2" text-anchor="middle" fill="#383838" stroke="#383838" stroke-width="0.2">a</text>
<text x="1019" y="174.6" font-size="14.2" text-anchor="middle" fill="#383838" stroke="#383838" stroke-width="0.2">C</text>
<text x="1055.4" y="211" font-size="14.2" text-anchor="middle" fill="#383838" stroke="#383838" stroke-width="0.2">a</text>
<text x="1072" y="159.4" font-size="14.2" text-anchor="middle" fill="#383838" stroke="#383838" stroke-width="0.2">BC</text>
<path d="M638.6 89.2 V88.8 Q638.6 87.4 640 87.4 L661.6 87.4 Q663 87.4 663 88.8 V89.2" fill="none" stroke="#4e4e4e" stroke-width="1.25"/>
<line x1="652" y1="87.4" x2="652" y2="85.6" stroke="#4e4e4e" stroke-width="1.25"/>
<text x="652" y="83.58" font-size="17" text-anchor="middle" fill="#262626">*</text>
<path d="M841 127.4 V127 Q841 125.6 842.4 125.6 L864 125.6 Q865.4 125.6 865.4 127 V127.4" fill="none" stroke="#4e4e4e" stroke-width="1.25"/>
<line x1="852.7" y1="125.6" x2="852.7" y2="123.8" stroke="#4e4e4e" stroke-width="1.25"/>
<text x="852.7" y="124.28" font-size="17" text-anchor="middle" fill="#262626">*</text>
<path d="M995.4 154.4 V154 Q995.4 152.6 996.8 152.6 L1018.2 152.6 Q1019.6 152.6 1019.6 154 V154.4" fill="none" stroke="#4e4e4e" stroke-width="1.25"/>
<line x1="1008.5" y1="152.6" x2="1008.5" y2="150.8" stroke="#4e4e4e" stroke-width="1.25"/>
<text x="1008.5" y="151.38" font-size="17" text-anchor="middle" fill="#262626">*</text>
</g>
<g>
<rect x="1195.6" y="188.6" width="10.4" height="100.1" fill="#231f20"/>
<line x1="1200.8" y1="160.6" x2="1200.8" y2="216.4" stroke="#7f7f85" stroke-width="1.3"/>
<line x1="1197.6" y1="160.6" x2="1204" y2="160.6" stroke="#7f7f85" stroke-width="1.25"/>
<line x1="1197.6" y1="216.4" x2="1204" y2="216.4" stroke="#7f7f85" stroke-width="1.25"/>
<rect x="1210.05" y="205.05" width="11.3" height="83.65" fill="#fff" stroke="#2e2e2e" stroke-width="1.4"/>
<line x1="1215.7" y1="199.6" x2="1215.7" y2="210.6" stroke="#7f7f85" stroke-width="1.3"/>
<line x1="1212.5" y1="199.6" x2="1218.9" y2="199.6" stroke="#7f7f85" stroke-width="1.25"/>
<line x1="1212.5" y1="210.6" x2="1218.9" y2="210.6" stroke="#7f7f85" stroke-width="1.25"/>
<rect x="1246.72" y="235.4" width="11.9" height="53.3" fill="#231f20"/>
<line x1="1252.67" y1="211.6" x2="1252.67" y2="257.4" stroke="#7f7f85" stroke-width="1.3"/>
<line x1="1249.47" y1="211.6" x2="1255.87" y2="211.6" stroke="#7f7f85" stroke-width="1.25"/>
<line x1="1249.47" y1="257.4" x2="1255.87" y2="257.4" stroke="#7f7f85" stroke-width="1.25"/>
<rect x="1263.07" y="224.25" width="10.9" height="64.45" fill="#fff" stroke="#2e2e2e" stroke-width="1.4"/>
<line x1="1268.52" y1="211.6" x2="1268.52" y2="236" stroke="#7f7f85" stroke-width="1.3"/>
<line x1="1265.32" y1="211.6" x2="1271.72" y2="211.6" stroke="#7f7f85" stroke-width="1.25"/>
<line x1="1265.32" y1="236" x2="1271.72" y2="236" stroke="#7f7f85" stroke-width="1.25"/>
<rect x="1299.14" y="259" width="11.9" height="29.7" fill="#231f20"/>
<line x1="1305.09" y1="229.6" x2="1305.09" y2="288.7" stroke="#7f7f85" stroke-width="1.3"/>
<line x1="1301.89" y1="229.6" x2="1308.29" y2="229.6" stroke="#7f7f85" stroke-width="1.25"/>
<line x1="1301.89" y1="288.7" x2="1308.29" y2="288.7" stroke="#7f7f85" stroke-width="1.25"/>
<rect x="1315.29" y="181.05" width="11.1" height="107.65" fill="#fff" stroke="#2e2e2e" stroke-width="1.4"/>
<line x1="1320.84" y1="177.6" x2="1320.84" y2="181.8" stroke="#7f7f85" stroke-width="1.3"/>
<line x1="1317.64" y1="177.6" x2="1324.04" y2="177.6" stroke="#7f7f85" stroke-width="1.25"/>
<line x1="1317.64" y1="181.8" x2="1324.04" y2="181.8" stroke="#7f7f85" stroke-width="1.25"/>
<rect x="1351.57" y="250.4" width="11.9" height="38.3" fill="#231f20"/>
<line x1="1357.52" y1="233" x2="1357.52" y2="267.6" stroke="#7f7f85" stroke-width="1.3"/>
<line x1="1354.32" y1="233" x2="1360.72" y2="233" stroke="#7f7f85" stroke-width="1.25"/>
<line x1="1354.32" y1="267.6" x2="1360.72" y2="267.6" stroke="#7f7f85" stroke-width="1.25"/>
<rect x="1368.02" y="203.25" width="10.9" height="85.45" fill="#fff" stroke="#2e2e2e" stroke-width="1.4"/>
<line x1="1373.47" y1="192.4" x2="1373.47" y2="212.4" stroke="#7f7f85" stroke-width="1.3"/>
<line x1="1370.27" y1="192.4" x2="1376.67" y2="192.4" stroke="#7f7f85" stroke-width="1.25"/>
<line x1="1370.27" y1="212.4" x2="1376.67" y2="212.4" stroke="#7f7f85" stroke-width="1.25"/>
<rect x="1403.99" y="223.4" width="11.9" height="65.3" fill="#231f20"/>
<line x1="1409.94" y1="205.6" x2="1409.94" y2="240.6" stroke="#7f7f85" stroke-width="1.3"/>
<line x1="1406.74" y1="205.6" x2="1413.14" y2="205.6" stroke="#7f7f85" stroke-width="1.25"/>
<line x1="1406.74" y1="240.6" x2="1413.14" y2="240.6" stroke="#7f7f85" stroke-width="1.25"/>
<rect x="1420.24" y="181.05" width="9.8" height="107.65" fill="#fff" stroke="#2e2e2e" stroke-width="1.4"/>
<line x1="1425.14" y1="177.6" x2="1425.14" y2="183" stroke="#7f7f85" stroke-width="1.3"/>
<line x1="1421.94" y1="177.6" x2="1428.34" y2="177.6" stroke="#7f7f85" stroke-width="1.25"/>
<line x1="1421.94" y1="183" x2="1428.34" y2="183" stroke="#7f7f85" stroke-width="1.25"/>
<rect x="1472.26" y="161.25" width="10.1" height="127.45" fill="#fff" stroke="#2e2e2e" stroke-width="1.4"/>
<line x1="1477.31" y1="151.6" x2="1477.31" y2="169.6" stroke="#7f7f85" stroke-width="1.3"/>
<line x1="1474.11" y1="151.6" x2="1480.51" y2="151.6" stroke="#7f7f85" stroke-width="1.25"/>
<line x1="1474.11" y1="169.6" x2="1480.51" y2="169.6" stroke="#7f7f85" stroke-width="1.25"/>
<rect x="1523.68" y="163.05" width="11.1" height="125.65" fill="#fff" stroke="#2e2e2e" stroke-width="1.4"/>
<line x1="1529.23" y1="153" x2="1529.23" y2="173" stroke="#7f7f85" stroke-width="1.3"/>
<line x1="1526.03" y1="153" x2="1532.43" y2="153" stroke="#7f7f85" stroke-width="1.25"/>
<line x1="1526.03" y1="173" x2="1532.43" y2="173" stroke="#7f7f85" stroke-width="1.25"/>
<rect x="1561.26" y="264" width="11.9" height="24.7" fill="#231f20"/>
<line x1="1567.21" y1="237.4" x2="1567.21" y2="288.7" stroke="#7f7f85" stroke-width="1.3"/>
<line x1="1564.01" y1="237.4" x2="1570.41" y2="237.4" stroke="#7f7f85" stroke-width="1.25"/>
<line x1="1564.01" y1="288.7" x2="1570.41" y2="288.7" stroke="#7f7f85" stroke-width="1.25"/>
<rect x="1576.31" y="221.25" width="10.7" height="67.45" fill="#fff" stroke="#2e2e2e" stroke-width="1.4"/>
<line x1="1581.66" y1="218" x2="1581.66" y2="222.2" stroke="#7f7f85" stroke-width="1.3"/>
<line x1="1578.46" y1="218" x2="1584.86" y2="218" stroke="#7f7f85" stroke-width="1.25"/>
<line x1="1578.46" y1="222.2" x2="1584.86" y2="222.2" stroke="#7f7f85" stroke-width="1.25"/>
<rect x="1613.68" y="142" width="11.9" height="146.7" fill="#231f20"/>
<line x1="1619.63" y1="126" x2="1619.63" y2="158" stroke="#7f7f85" stroke-width="1.3"/>
<line x1="1616.43" y1="126" x2="1622.83" y2="126" stroke="#7f7f85" stroke-width="1.25"/>
<line x1="1616.43" y1="158" x2="1622.83" y2="158" stroke="#7f7f85" stroke-width="1.25"/>
<rect x="1628.63" y="123.65" width="10.7" height="165.05" fill="#fff" stroke="#2e2e2e" stroke-width="1.4"/>
<line x1="1633.98" y1="99.4" x2="1633.98" y2="146" stroke="#7f7f85" stroke-width="1.3"/>
<line x1="1630.78" y1="99.4" x2="1637.18" y2="99.4" stroke="#7f7f85" stroke-width="1.25"/>
<line x1="1630.78" y1="146" x2="1637.18" y2="146" stroke="#7f7f85" stroke-width="1.25"/>
<path d="M1176.4 42 H1653.2 V288.7" fill="none" stroke="#58585a" stroke-width="1.6"/>
<line x1="1181.4" y1="41.2" x2="1181.4" y2="294.5" stroke="#58585a" stroke-width="1.6"/>
<line x1="1176.4" y1="288.7" x2="1654" y2="288.7" stroke="#3a3a3a" stroke-width="1.4"/>
<line x1="1233.82" y1="288.7" x2="1233.82" y2="294.5" stroke="#3a3a3a" stroke-width="1.4"/>
<line x1="1286.24" y1="288.7" x2="1286.24" y2="294.5" stroke="#3a3a3a" stroke-width="1.4"/>
<line x1="1338.67" y1="288.7" x2="1338.67" y2="294.5" stroke="#3a3a3a" stroke-width="1.4"/>
<line x1="1391.09" y1="288.7" x2="1391.09" y2="294.5" stroke="#3a3a3a" stroke-width="1.4"/>
<line x1="1443.51" y1="288.7" x2="1443.51" y2="294.5" stroke="#3a3a3a" stroke-width="1.4"/>
<line x1="1495.93" y1="288.7" x2="1495.93" y2="294.5" stroke="#3a3a3a" stroke-width="1.4"/>
<line x1="1548.36" y1="288.7" x2="1548.36" y2="294.5" stroke="#3a3a3a" stroke-width="1.4"/>
<line x1="1600.78" y1="288.7" x2="1600.78" y2="294.5" stroke="#3a3a3a" stroke-width="1.4"/>
<line x1="1653.2" y1="288.7" x2="1653.2" y2="294.5" stroke="#3a3a3a" stroke-width="1.4"/>
<line x1="1176.4" y1="288.7" x2="1181.4" y2="288.7" stroke="#58585a" stroke-width="1.44"/>
<text x="1166.2" y="295.2" font-size="17.8" text-anchor="end" font-weight="bold" fill="#1a1a1a" stroke="#1a1a1a" stroke-width="0.3">0.0</text>
<line x1="1176.4" y1="227" x2="1181.4" y2="227" stroke="#58585a" stroke-width="1.44"/>
<text x="1166.2" y="233.15" font-size="17.8" text-anchor="end" font-weight="bold" fill="#1a1a1a" stroke="#1a1a1a" stroke-width="0.3">0.1</text>
<line x1="1176.4" y1="165.2" x2="1181.4" y2="165.2" stroke="#58585a" stroke-width="1.44"/>
<text x="1166.2" y="171" font-size="17.8" text-anchor="end" font-weight="bold" fill="#1a1a1a" stroke="#1a1a1a" stroke-width="0.3">0.2</text>
<line x1="1176.4" y1="103.5" x2="1181.4" y2="103.5" stroke="#58585a" stroke-width="1.44"/>
<text x="1166.2" y="108.95" font-size="17.8" text-anchor="end" font-weight="bold" fill="#1a1a1a" stroke="#1a1a1a" stroke-width="0.3">0.3</text>
<line x1="1176.4" y1="42" x2="1181.4" y2="42" stroke="#58585a" stroke-width="1.44"/>
<text x="1166.2" y="47.1" font-size="17.8" text-anchor="end" font-weight="bold" fill="#1a1a1a" stroke="#1a1a1a" stroke-width="0.3">0.4</text>
<text x="1208.11" y="316.4" font-size="17.8" text-anchor="middle" font-weight="bold" fill="#1a1a1a" stroke="#1a1a1a" stroke-width="0.3">0</text>
<text x="1260.53" y="316.4" font-size="17.8" text-anchor="middle" font-weight="bold" fill="#1a1a1a" stroke="#1a1a1a" stroke-width="0.3">0.4</text>
<text x="1312.96" y="316.4" font-size="17.8" text-anchor="middle" font-weight="bold" fill="#1a1a1a" stroke="#1a1a1a" stroke-width="0.3">0.9</text>
<text x="1365.38" y="316.4" font-size="17.8" text-anchor="middle" font-weight="bold" fill="#1a1a1a" stroke="#1a1a1a" stroke-width="0.3">1.8</text>
<text x="1417.8" y="316.4" font-size="17.8" text-anchor="middle" font-weight="bold" fill="#1a1a1a" stroke="#1a1a1a" stroke-width="0.3">3.5</text>
<text x="1470.22" y="316.4" font-size="17.8" text-anchor="middle" font-weight="bold" fill="#1a1a1a" stroke="#1a1a1a" stroke-width="0.3">7</text>
<text x="1522.64" y="316.4" font-size="17.8" text-anchor="middle" font-weight="bold" fill="#1a1a1a" stroke="#1a1a1a" stroke-width="0.3">14</text>
<text x="1575.07" y="316.4" font-size="17.8" text-anchor="middle" font-weight="bold" fill="#1a1a1a" stroke="#1a1a1a" stroke-width="0.3">28</text>
<text x="1627.49" y="316.4" font-size="17.8" text-anchor="middle" font-weight="bold" fill="#1a1a1a" stroke="#1a1a1a" stroke-width="0.3">56</text>
<text x="1401.5" y="339" font-size="17.9" text-anchor="middle" font-weight="bold" fill="#1a1a1a" stroke="#1a1a1a" stroke-width="0.3">Boron (mg.L<tspan font-size="10.4" dy="-6.8">-1</tspan><tspan dy="6.8">)</tspan></text>
<text transform="translate(1124.4 167.5) rotate(-90)" font-size="18.3" font-weight="bold" text-anchor="middle" fill="#1a1a1a" stroke="#1a1a1a" stroke-width="0.3">Raffinose (µg.mg DW<tspan font-size="10.4" dx="-1.2" dy="-6.8">-1</tspan><tspan dy="6.8" dx="-0.4">)</tspan></text>
<text x="1100.6" y="24.4" font-size="28.6" text-anchor="start" font-weight="bold" fill="#111" stroke="#111" stroke-width="0.5">C</text>
<text x="1639.8" y="58.7" font-size="15" text-anchor="end" font-weight="bold" fill="#1a1a1a" stroke="#1a1a1a" stroke-width="0.3">P<tspan font-size="9.6" dx="0.4" dy="3">7d</tspan><tspan dy="-3" font-weight="normal"> =</tspan> 0.000</text>
<text x="1640.6" y="73.3" font-size="15" text-anchor="end" font-weight="bold" fill="#1a1a1a" stroke="#1a1a1a" stroke-width="0.3">P<tspan font-size="9.6" dx="0.4" dy="3">10d</tspan><tspan dy="-3" font-weight="normal"> =</tspan> 0.000</text>
<text x="1196.75" y="155.4" font-size="14.2" text-anchor="middle" fill="#383838" stroke="#383838" stroke-width="0.2" letter-spacing="0.7">bc</text>
<text x="1214" y="197" font-size="14.2" text-anchor="middle" fill="#383838" stroke="#383838" stroke-width="0.2">A</text>
<text x="1249.95" y="209" font-size="14.2" text-anchor="middle" fill="#383838" stroke="#383838" stroke-width="0.2" letter-spacing="0.7">ac</text>
<text x="1268" y="207.6" font-size="14.2" text-anchor="middle" fill="#383838" stroke="#383838" stroke-width="0.2">A</text>
<text x="1298.75" y="224.4" font-size="14.2" text-anchor="middle" fill="#383838" stroke="#383838" stroke-width="0.2" letter-spacing="0.7">ab</text>
<text x="1319.5" y="172" font-size="14.2" text-anchor="middle" fill="#383838" stroke="#383838" stroke-width="0.2">AB</text>
<text x="1351.95" y="226" font-size="14.2" text-anchor="middle" fill="#383838" stroke="#383838" stroke-width="0.2" letter-spacing="0.7">ab</text>
<text x="1371" y="189.6" font-size="14.2" text-anchor="middle" fill="#383838" stroke="#383838" stroke-width="0.2">A</text>
<text x="1402.95" y="197.6" font-size="14.2" text-anchor="middle" fill="#383838" stroke="#383838" stroke-width="0.2" letter-spacing="0.7">ac</text>
<text x="1423" y="171.6" font-size="14.2" text-anchor="middle" fill="#383838" stroke="#383838" stroke-width="0.2">AB</text>
<text x="1451.4" y="272.4" font-size="14.2" text-anchor="middle" fill="#383838" stroke="#383838" stroke-width="0.2">a</text>
<text x="1451.4" y="282" font-size="14.2" text-anchor="middle" fill="#383838" stroke="#383838" stroke-width="0.2">n.d.</text>
<text x="1475.6" y="143" font-size="14.2" text-anchor="middle" fill="#383838" stroke="#383838" stroke-width="0.2">AB</text>
<text x="1499.4" y="271" font-size="14.2" text-anchor="middle" fill="#383838" stroke="#383838" stroke-width="0.2">a</text>
<text x="1502" y="281.4" font-size="14.2" text-anchor="middle" fill="#383838" stroke="#383838" stroke-width="0.2">n.d.</text>
<text x="1528.4" y="143" font-size="14.2" text-anchor="middle" fill="#383838" stroke="#383838" stroke-width="0.2">AB</text>
<text x="1561.95" y="229" font-size="14.2" text-anchor="middle" fill="#383838" stroke="#383838" stroke-width="0.2" letter-spacing="0.7">ab</text>
<text x="1580" y="215" font-size="14.2" text-anchor="middle" fill="#383838" stroke="#383838" stroke-width="0.2">A</text>
<text x="1617" y="122.4" font-size="14.2" text-anchor="middle" fill="#383838" stroke="#383838" stroke-width="0.2">c</text>
<text x="1633.6" y="94.6" font-size="14.2" text-anchor="middle" fill="#383838" stroke="#383838" stroke-width="0.2">B</text>
<path d="M1295.4 156 V153.8 Q1295.4 152.4 1296.8 152.4 L1315 152.4 Q1316.4 152.4 1316.4 153.8 V156" fill="none" stroke="#4e4e4e" stroke-width="1.25"/>
<line x1="1305.9" y1="152.4" x2="1305.9" y2="149" stroke="#4e4e4e" stroke-width="1.25"/>
<text x="1305.9" y="149.27" font-size="17" text-anchor="middle" fill="#262626">*</text>
<path d="M1348.6 173.1 V170.9 Q1348.6 169.5 1350 169.5 L1370.6 169.5 Q1372 169.5 1372 170.9 V173.1" fill="none" stroke="#4e4e4e" stroke-width="1.25"/>
<line x1="1360.3" y1="169.5" x2="1360.3" y2="166.1" stroke="#4e4e4e" stroke-width="1.25"/>
<text x="1360.3" y="170.77" font-size="17" text-anchor="middle" fill="#262626">*</text>
<path d="M1401.6 151.6 V149.4 Q1401.6 148 1403 148 L1423.2 148 Q1424.6 148 1424.6 149.4 V151.6" fill="none" stroke="#4e4e4e" stroke-width="1.25"/>
<line x1="1413.1" y1="148" x2="1413.1" y2="144.6" stroke="#4e4e4e" stroke-width="1.25"/>
<text x="1413.1" y="146.38" font-size="17" text-anchor="middle" fill="#262626">*</text>
<path d="M1453.6 128 V125.8 Q1453.6 124.4 1455 124.4 L1474 124.4 Q1475.4 124.4 1475.4 125.8 V128" fill="none" stroke="#4e4e4e" stroke-width="1.25"/>
<line x1="1464.5" y1="124.4" x2="1464.5" y2="121" stroke="#4e4e4e" stroke-width="1.25"/>
<text x="1464.5" y="124.28" font-size="17" text-anchor="middle" fill="#262626">*</text>
<path d="M1506.3 125 V122.8 Q1506.3 121.4 1507.7 121.4 L1526.2 121.4 Q1527.6 121.4 1527.6 122.8 V125" fill="none" stroke="#4e4e4e" stroke-width="1.25"/>
<line x1="1516.95" y1="121.4" x2="1516.95" y2="118" stroke="#4e4e4e" stroke-width="1.25"/>
<text x="1516.95" y="122.67" font-size="17" text-anchor="middle" fill="#262626">*</text>
<path d="M1557 195.2 V193 Q1557 191.6 1558.4 191.6 L1578.6 191.6 Q1580 191.6 1580 193 V195.2" fill="none" stroke="#4e4e4e" stroke-width="1.25"/>
<line x1="1568.5" y1="191.6" x2="1568.5" y2="188.2" stroke="#4e4e4e" stroke-width="1.25"/>
<text x="1568.5" y="191.67" font-size="17" text-anchor="middle" fill="#262626">*</text>
</g>
<g>
<rect x="78" y="506" width="10.2" height="74.2" fill="#231f20"/>
<line x1="83.1" y1="499" x2="83.1" y2="514.4" stroke="#7f7f85" stroke-width="1.3"/>
<line x1="79.9" y1="499" x2="86.3" y2="499" stroke="#7f7f85" stroke-width="1.25"/>
<line x1="79.9" y1="514.4" x2="86.3" y2="514.4" stroke="#7f7f85" stroke-width="1.25"/>
<rect x="92.25" y="506.65" width="11.7" height="73.55" fill="#fff" stroke="#4c4c4e" stroke-width="1.5"/>
<line x1="98.1" y1="504.6" x2="98.1" y2="509.4" stroke="#7f7f85" stroke-width="1.3"/>
<line x1="94.9" y1="504.6" x2="101.3" y2="504.6" stroke="#7f7f85" stroke-width="1.25"/>
<line x1="94.9" y1="509.4" x2="101.3" y2="509.4" stroke="#7f7f85" stroke-width="1.25"/>
<rect x="130.44" y="469.6" width="10.4" height="110.6" fill="#231f20"/>
<line x1="135.64" y1="460" x2="135.64" y2="479.6" stroke="#7f7f85" stroke-width="1.3"/>
<line x1="132.44" y1="460" x2="138.84" y2="460" stroke="#7f7f85" stroke-width="1.25"/>
<line x1="132.44" y1="479.6" x2="138.84" y2="479.6" stroke="#7f7f85" stroke-width="1.25"/>
<rect x="144.69" y="472.25" width="11.7" height="107.95" fill="#fff" stroke="#4c4c4e" stroke-width="1.5"/>
<line x1="150.54" y1="459.6" x2="150.54" y2="484" stroke="#7f7f85" stroke-width="1.3"/>
<line x1="147.34" y1="459.6" x2="153.74" y2="459.6" stroke="#7f7f85" stroke-width="1.25"/>
<line x1="147.34" y1="484" x2="153.74" y2="484" stroke="#7f7f85" stroke-width="1.25"/>
<rect x="181.29" y="471" width="11.8" height="109.2" fill="#231f20"/>
<line x1="187.19" y1="464.4" x2="187.19" y2="476.6" stroke="#7f7f85" stroke-width="1.3"/>
<line x1="183.99" y1="464.4" x2="190.39" y2="464.4" stroke="#7f7f85" stroke-width="1.25"/>
<line x1="183.99" y1="476.6" x2="190.39" y2="476.6" stroke="#7f7f85" stroke-width="1.25"/>
<rect x="197.14" y="447.05" width="11.7" height="133.15" fill="#fff" stroke="#4c4c4e" stroke-width="1.5"/>
<line x1="202.99" y1="441.6" x2="202.99" y2="451.4" stroke="#7f7f85" stroke-width="1.3"/>
<line x1="199.79" y1="441.6" x2="206.19" y2="441.6" stroke="#7f7f85" stroke-width="1.25"/>
<line x1="199.79" y1="451.4" x2="206.19" y2="451.4" stroke="#7f7f85" stroke-width="1.25"/>
<rect x="233.73" y="480" width="11.8" height="100.2" fill="#231f20"/>
<line x1="239.63" y1="472" x2="239.63" y2="487.4" stroke="#7f7f85" stroke-width="1.3"/>
<line x1="236.43" y1="472" x2="242.83" y2="472" stroke="#7f7f85" stroke-width="1.25"/>
<line x1="236.43" y1="487.4" x2="242.83" y2="487.4" stroke="#7f7f85" stroke-width="1.25"/>
<rect x="249.58" y="534.05" width="11.7" height="46.15" fill="#fff" stroke="#4c4c4e" stroke-width="1.5"/>
<line x1="255.43" y1="514" x2="255.43" y2="551.4" stroke="#7f7f85" stroke-width="1.3"/>
<line x1="252.23" y1="514" x2="258.63" y2="514" stroke="#7f7f85" stroke-width="1.25"/>
<line x1="252.23" y1="551.4" x2="258.63" y2="551.4" stroke="#7f7f85" stroke-width="1.25"/>
<rect x="286.18" y="444.4" width="11.8" height="135.8" fill="#231f20"/>
<line x1="292.08" y1="438.6" x2="292.08" y2="451.4" stroke="#7f7f85" stroke-width="1.3"/>
<line x1="288.88" y1="438.6" x2="295.28" y2="438.6" stroke="#7f7f85" stroke-width="1.25"/>
<line x1="288.88" y1="451.4" x2="295.28" y2="451.4" stroke="#7f7f85" stroke-width="1.25"/>
<rect x="302.03" y="442.25" width="11.7" height="137.95" fill="#fff" stroke="#4c4c4e" stroke-width="1.5"/>
<line x1="307.88" y1="435.6" x2="307.88" y2="448" stroke="#7f7f85" stroke-width="1.3"/>
<line x1="304.68" y1="435.6" x2="311.08" y2="435.6" stroke="#7f7f85" stroke-width="1.25"/>
<line x1="304.68" y1="448" x2="311.08" y2="448" stroke="#7f7f85" stroke-width="1.25"/>
<rect x="338.62" y="461" width="11.8" height="119.2" fill="#231f20"/>
<line x1="344.52" y1="446.4" x2="344.52" y2="473.4" stroke="#7f7f85" stroke-width="1.3"/>
<line x1="341.32" y1="446.4" x2="347.72" y2="446.4" stroke="#7f7f85" stroke-width="1.25"/>
<line x1="341.32" y1="473.4" x2="347.72" y2="473.4" stroke="#7f7f85" stroke-width="1.25"/>
<rect x="354.47" y="460.65" width="11.7" height="119.55" fill="#fff" stroke="#4c4c4e" stroke-width="1.5"/>
<line x1="360.32" y1="455.4" x2="360.32" y2="463" stroke="#7f7f85" stroke-width="1.3"/>
<line x1="357.12" y1="455.4" x2="363.52" y2="455.4" stroke="#7f7f85" stroke-width="1.25"/>
<line x1="357.12" y1="463" x2="363.52" y2="463" stroke="#7f7f85" stroke-width="1.25"/>
<rect x="391.07" y="461" width="11.8" height="119.2" fill="#231f20"/>
<line x1="396.97" y1="453.6" x2="396.97" y2="467.6" stroke="#7f7f85" stroke-width="1.3"/>
<line x1="393.77" y1="453.6" x2="400.17" y2="453.6" stroke="#7f7f85" stroke-width="1.25"/>
<line x1="393.77" y1="467.6" x2="400.17" y2="467.6" stroke="#7f7f85" stroke-width="1.25"/>
<rect x="406.92" y="474.05" width="11.7" height="106.15" fill="#fff" stroke="#4c4c4e" stroke-width="1.5"/>
<line x1="412.77" y1="465.6" x2="412.77" y2="481" stroke="#7f7f85" stroke-width="1.3"/>
<line x1="409.57" y1="465.6" x2="415.97" y2="465.6" stroke="#7f7f85" stroke-width="1.25"/>
<line x1="409.57" y1="481" x2="415.97" y2="481" stroke="#7f7f85" stroke-width="1.25"/>
<rect x="443.51" y="441.4" width="11.8" height="138.8" fill="#231f20"/>
<line x1="449.41" y1="438.6" x2="449.41" y2="443.6" stroke="#7f7f85" stroke-width="1.3"/>
<line x1="446.21" y1="438.6" x2="452.61" y2="438.6" stroke="#7f7f85" stroke-width="1.25"/>
<line x1="446.21" y1="443.6" x2="452.61" y2="443.6" stroke="#7f7f85" stroke-width="1.25"/>
<rect x="459.36" y="404.65" width="11.7" height="175.55" fill="#fff" stroke="#4c4c4e" stroke-width="1.5"/>
<line x1="465.21" y1="402.6" x2="465.21" y2="405.6" stroke="#7f7f85" stroke-width="1.3"/>
<line x1="462.01" y1="402.6" x2="468.41" y2="402.6" stroke="#7f7f85" stroke-width="1.25"/>
<line x1="462.01" y1="405.6" x2="468.41" y2="405.6" stroke="#7f7f85" stroke-width="1.25"/>
<rect x="495.96" y="435.4" width="11.8" height="144.8" fill="#231f20"/>
<line x1="501.86" y1="431" x2="501.86" y2="440.4" stroke="#7f7f85" stroke-width="1.3"/>
<line x1="498.66" y1="431" x2="505.06" y2="431" stroke="#7f7f85" stroke-width="1.25"/>
<line x1="498.66" y1="440.4" x2="505.06" y2="440.4" stroke="#7f7f85" stroke-width="1.25"/>
<rect x="511.81" y="465.05" width="11.7" height="115.15" fill="#fff" stroke="#4c4c4e" stroke-width="1.5"/>
<line x1="517.66" y1="441.6" x2="517.66" y2="485.6" stroke="#7f7f85" stroke-width="1.3"/>
<line x1="514.46" y1="441.6" x2="520.86" y2="441.6" stroke="#7f7f85" stroke-width="1.25"/>
<line x1="514.46" y1="485.6" x2="520.86" y2="485.6" stroke="#7f7f85" stroke-width="1.25"/>
<path d="M62.9 338.2 H535.6 V580.2" fill="none" stroke="#231f20" stroke-width="1.5"/>
<line x1="63.6" y1="337.45" x2="63.6" y2="586" stroke="#231f20" stroke-width="1.4"/>
<line x1="59" y1="580.2" x2="536.35" y2="580.2" stroke="#231f20" stroke-width="1.4"/>
<line x1="116.04" y1="580.2" x2="116.04" y2="586" stroke="#231f20" stroke-width="1.4"/>
<line x1="168.49" y1="580.2" x2="168.49" y2="586" stroke="#231f20" stroke-width="1.4"/>
<line x1="220.93" y1="580.2" x2="220.93" y2="586" stroke="#231f20" stroke-width="1.4"/>
<line x1="273.38" y1="580.2" x2="273.38" y2="586" stroke="#231f20" stroke-width="1.4"/>
<line x1="325.82" y1="580.2" x2="325.82" y2="586" stroke="#231f20" stroke-width="1.4"/>
<line x1="378.27" y1="580.2" x2="378.27" y2="586" stroke="#231f20" stroke-width="1.4"/>
<line x1="430.71" y1="580.2" x2="430.71" y2="586" stroke="#231f20" stroke-width="1.4"/>
<line x1="483.16" y1="580.2" x2="483.16" y2="586" stroke="#231f20" stroke-width="1.4"/>
<line x1="535.6" y1="580.2" x2="535.6" y2="586" stroke="#231f20" stroke-width="1.4"/>
<line x1="59" y1="580.2" x2="63.6" y2="580.2" stroke="#231f20" stroke-width="1.26"/>
<text x="48.2" y="586.2" font-size="17.8" text-anchor="end" font-weight="bold" fill="#1a1a1a" stroke="#1a1a1a" stroke-width="0.3">0</text>
<line x1="59" y1="541.4" x2="63.6" y2="541.4" stroke="#231f20" stroke-width="1.26"/>
<text x="48.2" y="547.26" font-size="17.8" text-anchor="end" font-weight="bold" fill="#1a1a1a" stroke="#1a1a1a" stroke-width="0.3">5</text>
<line x1="59" y1="502" x2="63.6" y2="502" stroke="#231f20" stroke-width="1.26"/>
<text x="48.2" y="507.71" font-size="17.8" text-anchor="end" font-weight="bold" fill="#1a1a1a" stroke="#1a1a1a" stroke-width="0.3">10</text>
<line x1="59" y1="463" x2="63.6" y2="463" stroke="#231f20" stroke-width="1.26"/>
<text x="48.2" y="468.56" font-size="17.8" text-anchor="end" font-weight="bold" fill="#1a1a1a" stroke="#1a1a1a" stroke-width="0.3">15</text>
<line x1="59" y1="424" x2="63.6" y2="424" stroke="#231f20" stroke-width="1.26"/>
<text x="48.2" y="429.42" font-size="17.8" text-anchor="end" font-weight="bold" fill="#1a1a1a" stroke="#1a1a1a" stroke-width="0.3">20</text>
<line x1="59" y1="385" x2="63.6" y2="385" stroke="#231f20" stroke-width="1.26"/>
<text x="48.2" y="390.27" font-size="17.8" text-anchor="end" font-weight="bold" fill="#1a1a1a" stroke="#1a1a1a" stroke-width="0.3">25</text>
<line x1="59" y1="346" x2="63.6" y2="346" stroke="#231f20" stroke-width="1.26"/>
<text x="48.2" y="351.13" font-size="17.8" text-anchor="end" font-weight="bold" fill="#1a1a1a" stroke="#1a1a1a" stroke-width="0.3">30</text>
<text x="90.32" y="607.8" font-size="17.8" text-anchor="middle" font-weight="bold" fill="#1a1a1a" stroke="#1a1a1a" stroke-width="0.3">0</text>
<text x="142.77" y="607.8" font-size="17.8" text-anchor="middle" font-weight="bold" fill="#1a1a1a" stroke="#1a1a1a" stroke-width="0.3">0.4</text>
<text x="195.21" y="607.8" font-size="17.8" text-anchor="middle" font-weight="bold" fill="#1a1a1a" stroke="#1a1a1a" stroke-width="0.3">0.9</text>
<text x="247.66" y="607.8" font-size="17.8" text-anchor="middle" font-weight="bold" fill="#1a1a1a" stroke="#1a1a1a" stroke-width="0.3">1.8</text>
<text x="300.1" y="607.8" font-size="17.8" text-anchor="middle" font-weight="bold" fill="#1a1a1a" stroke="#1a1a1a" stroke-width="0.3">3.5</text>
<text x="352.54" y="607.8" font-size="17.8" text-anchor="middle" font-weight="bold" fill="#1a1a1a" stroke="#1a1a1a" stroke-width="0.3">7</text>
<text x="404.99" y="607.8" font-size="17.8" text-anchor="middle" font-weight="bold" fill="#1a1a1a" stroke="#1a1a1a" stroke-width="0.3">14</text>
<text x="457.43" y="607.8" font-size="17.8" text-anchor="middle" font-weight="bold" fill="#1a1a1a" stroke="#1a1a1a" stroke-width="0.3">28</text>
<text x="509.88" y="607.8" font-size="17.8" text-anchor="middle" font-weight="bold" fill="#1a1a1a" stroke="#1a1a1a" stroke-width="0.3">56</text>
<text x="300" y="631" font-size="17.9" text-anchor="middle" font-weight="bold" fill="#1a1a1a" stroke="#1a1a1a" stroke-width="0.3">Boron (mg.L<tspan font-size="10.4" dy="-6.8">-1</tspan><tspan dy="6.8">)</tspan></text>
<text transform="translate(16.2 461.5) rotate(-90)" font-size="18.3" font-weight="bold" text-anchor="middle" fill="#1a1a1a" stroke="#1a1a1a" stroke-width="0.3">Sucrose (µg.mg DW<tspan font-size="10.4" dx="-1.2" dy="-6.8">-1</tspan><tspan dy="6.8" dx="-0.4">)</tspan></text>
<text x="0" y="336.6" font-size="28.6" text-anchor="start" font-weight="bold" fill="#111" stroke="#111" stroke-width="0.5">D</text>
<text x="523.6" y="352" font-size="15" text-anchor="end" font-weight="bold" fill="#1a1a1a" stroke="#1a1a1a" stroke-width="0.3">P<tspan font-size="9.6" dx="0.4" dy="3">7d</tspan><tspan dy="-3" font-weight="normal"> =</tspan> 0.000</text>
<text x="524.6" y="367.6" font-size="15" text-anchor="end" font-weight="bold" fill="#1a1a1a" stroke="#1a1a1a" stroke-width="0.3">P<tspan font-size="9.6" dx="0.4" dy="3">10d</tspan><tspan dy="-3" font-weight="normal"> =</tspan> 0.000</text>
<text x="81" y="493" font-size="14.2" text-anchor="middle" fill="#383838" stroke="#383838" stroke-width="0.2">a</text>
<text x="98.4" y="499.4" font-size="14.2" text-anchor="middle" fill="#383838" stroke="#383838" stroke-width="0.2">AB</text>
<text x="130.95" y="454.4" font-size="14.2" text-anchor="middle" fill="#383838" stroke="#383838" stroke-width="0.2" letter-spacing="0.7">ac</text>
<text x="154" y="454.4" font-size="14.2" text-anchor="middle" fill="#383838" stroke="#383838" stroke-width="0.2">AC</text>
<text x="180.35" y="459" font-size="14.2" text-anchor="middle" fill="#383838" stroke="#383838" stroke-width="0.2" letter-spacing="0.7">ac</text>
<text x="201" y="438" font-size="14.2" text-anchor="middle" fill="#383838" stroke="#383838" stroke-width="0.2">BC</text>
<text x="237.75" y="467" font-size="14.2" text-anchor="middle" fill="#383838" stroke="#383838" stroke-width="0.2" letter-spacing="0.7">ab</text>
<text x="254" y="507" font-size="14.2" text-anchor="middle" fill="#383838" stroke="#383838" stroke-width="0.2">A</text>
<text x="286.95" y="435" font-size="14.2" text-anchor="middle" fill="#383838" stroke="#383838" stroke-width="0.2" letter-spacing="0.7">bc</text>
<text x="311.4" y="430.4" font-size="14.2" text-anchor="middle" fill="#383838" stroke="#383838" stroke-width="0.2">BC</text>
<text x="343.35" y="439.6" font-size="14.2" text-anchor="middle" fill="#383838" stroke="#383838" stroke-width="0.2" letter-spacing="0.7">bc</text>
<text x="363" y="451.6" font-size="14.2" text-anchor="middle" fill="#383838" stroke="#383838" stroke-width="0.2">BC</text>
<text x="393.95" y="446.4" font-size="14.2" text-anchor="middle" fill="#383838" stroke="#383838" stroke-width="0.2" letter-spacing="0.7">bc</text>
<text x="413.6" y="460.4" font-size="14.2" text-anchor="middle" fill="#383838" stroke="#383838" stroke-width="0.2">AC</text>
<text x="448.4" y="433" font-size="14.2" text-anchor="middle" fill="#383838" stroke="#383838" stroke-width="0.2">c</text>
<text x="463" y="397.4" font-size="14.2" text-anchor="middle" fill="#383838" stroke="#383838" stroke-width="0.2">C</text>
<text x="500.6" y="424.4" font-size="14.2" text-anchor="middle" fill="#383838" stroke="#383838" stroke-width="0.2">c</text>
<text x="515.4" y="436.6" font-size="14.2" text-anchor="middle" fill="#383838" stroke="#383838" stroke-width="0.2">B</text>
<path d="M238.6 452.4 V450.4 Q238.6 449 240 449 L258.2 449 Q259.6 449 259.6 450.4 V452.4" fill="none" stroke="#4e4e4e" stroke-width="1.25"/>
<line x1="249.1" y1="449" x2="249.1" y2="446" stroke="#4e4e4e" stroke-width="1.25"/>
<text x="249.1" y="449.77" font-size="17" text-anchor="middle" fill="#262626">*</text>
<path d="M441 383.4 V381.4 Q441 380 442.4 380 L461 380 Q462.4 380 462.4 381.4 V383.4" fill="none" stroke="#4e4e4e" stroke-width="1.25"/>
<line x1="451.7" y1="380" x2="451.7" y2="377" stroke="#4e4e4e" stroke-width="1.25"/>
<text x="451.7" y="381.07" font-size="17" text-anchor="middle" fill="#262626">*</text>
</g>
<g>
<rect x="634" y="557.4" width="11.7" height="22.9" fill="#231f20"/>
<line x1="639.85" y1="556" x2="639.85" y2="559.4" stroke="#7f7f85" stroke-width="1.3"/>
<line x1="636.65" y1="556" x2="643.05" y2="556" stroke="#7f7f85" stroke-width="1.25"/>
<line x1="636.65" y1="559.4" x2="643.05" y2="559.4" stroke="#7f7f85" stroke-width="1.25"/>
<rect x="649.15" y="565.65" width="10.8" height="14.65" fill="#fff" stroke="#3a3a3c" stroke-width="1.45"/>
<line x1="654.55" y1="564.2" x2="654.55" y2="566" stroke="#7f7f85" stroke-width="1.3"/>
<line x1="651.35" y1="564.2" x2="657.75" y2="564.2" stroke="#7f7f85" stroke-width="1.25"/>
<line x1="651.35" y1="566" x2="657.75" y2="566" stroke="#7f7f85" stroke-width="1.25"/>
<rect x="686.28" y="555.6" width="11.7" height="24.7" fill="#231f20"/>
<line x1="692.13" y1="550.4" x2="692.13" y2="559.4" stroke="#7f7f85" stroke-width="1.3"/>
<line x1="688.93" y1="550.4" x2="695.33" y2="550.4" stroke="#7f7f85" stroke-width="1.25"/>
<line x1="688.93" y1="559.4" x2="695.33" y2="559.4" stroke="#7f7f85" stroke-width="1.25"/>
<rect x="701.43" y="567.25" width="10.8" height="13.05" fill="#fff" stroke="#3a3a3c" stroke-width="1.45"/>
<line x1="706.83" y1="566" x2="706.83" y2="568" stroke="#7f7f85" stroke-width="1.3"/>
<line x1="703.63" y1="566" x2="710.03" y2="566" stroke="#7f7f85" stroke-width="1.25"/>
<line x1="703.63" y1="568" x2="710.03" y2="568" stroke="#7f7f85" stroke-width="1.25"/>
<rect x="738.56" y="542" width="11.7" height="38.3" fill="#231f20"/>
<line x1="744.41" y1="539.6" x2="744.41" y2="544" stroke="#7f7f85" stroke-width="1.3"/>
<line x1="741.21" y1="539.6" x2="747.61" y2="539.6" stroke="#7f7f85" stroke-width="1.25"/>
<line x1="741.21" y1="544" x2="747.61" y2="544" stroke="#7f7f85" stroke-width="1.25"/>
<rect x="753.71" y="557.05" width="10.8" height="23.25" fill="#fff" stroke="#3a3a3c" stroke-width="1.45"/>
<line x1="759.11" y1="555.6" x2="759.11" y2="557.6" stroke="#7f7f85" stroke-width="1.3"/>
<line x1="755.91" y1="555.6" x2="762.31" y2="555.6" stroke="#7f7f85" stroke-width="1.25"/>
<line x1="755.91" y1="557.6" x2="762.31" y2="557.6" stroke="#7f7f85" stroke-width="1.25"/>
<rect x="790.83" y="551.4" width="11.7" height="28.9" fill="#231f20"/>
<line x1="796.68" y1="548.4" x2="796.68" y2="555" stroke="#7f7f85" stroke-width="1.3"/>
<line x1="793.48" y1="548.4" x2="799.88" y2="548.4" stroke="#7f7f85" stroke-width="1.25"/>
<line x1="793.48" y1="555" x2="799.88" y2="555" stroke="#7f7f85" stroke-width="1.25"/>
<rect x="805.98" y="564.25" width="10.8" height="16.05" fill="#fff" stroke="#3a3a3c" stroke-width="1.45"/>
<line x1="811.38" y1="563" x2="811.38" y2="564.6" stroke="#7f7f85" stroke-width="1.3"/>
<line x1="808.18" y1="563" x2="814.58" y2="563" stroke="#7f7f85" stroke-width="1.25"/>
<line x1="808.18" y1="564.6" x2="814.58" y2="564.6" stroke="#7f7f85" stroke-width="1.25"/>
<rect x="843.61" y="537.4" width="10.5" height="42.9" fill="#231f20"/>
<line x1="848.86" y1="536.6" x2="848.86" y2="538.4" stroke="#7f7f85" stroke-width="1.3"/>
<line x1="845.66" y1="536.6" x2="852.06" y2="536.6" stroke="#7f7f85" stroke-width="1.25"/>
<line x1="845.66" y1="538.4" x2="852.06" y2="538.4" stroke="#7f7f85" stroke-width="1.25"/>
<rect x="858.26" y="543.05" width="10.8" height="37.25" fill="#fff" stroke="#3a3a3c" stroke-width="1.45"/>
<line x1="863.66" y1="539.6" x2="863.66" y2="544.4" stroke="#7f7f85" stroke-width="1.3"/>
<line x1="860.46" y1="539.6" x2="866.86" y2="539.6" stroke="#7f7f85" stroke-width="1.25"/>
<line x1="860.46" y1="544.4" x2="866.86" y2="544.4" stroke="#7f7f85" stroke-width="1.25"/>
<rect x="894.39" y="548" width="11.6" height="32.3" fill="#231f20"/>
<line x1="900.19" y1="544" x2="900.19" y2="552" stroke="#7f7f85" stroke-width="1.3"/>
<line x1="896.99" y1="544" x2="903.39" y2="544" stroke="#7f7f85" stroke-width="1.25"/>
<line x1="896.99" y1="552" x2="903.39" y2="552" stroke="#7f7f85" stroke-width="1.25"/>
<rect x="910.64" y="553.65" width="11.1" height="26.65" fill="#fff" stroke="#3a3a3c" stroke-width="1.45"/>
<line x1="916.19" y1="548.6" x2="916.19" y2="559.4" stroke="#7f7f85" stroke-width="1.3"/>
<line x1="912.99" y1="548.6" x2="919.39" y2="548.6" stroke="#7f7f85" stroke-width="1.25"/>
<line x1="912.99" y1="559.4" x2="919.39" y2="559.4" stroke="#7f7f85" stroke-width="1.25"/>
<rect x="946.97" y="537.4" width="11.6" height="42.9" fill="#231f20"/>
<line x1="952.77" y1="535" x2="952.77" y2="538.6" stroke="#7f7f85" stroke-width="1.3"/>
<line x1="949.57" y1="535" x2="955.97" y2="535" stroke="#7f7f85" stroke-width="1.25"/>
<line x1="949.57" y1="538.6" x2="955.97" y2="538.6" stroke="#7f7f85" stroke-width="1.25"/>
<rect x="963.22" y="553.65" width="10.7" height="26.65" fill="#fff" stroke="#3a3a3c" stroke-width="1.45"/>
<line x1="968.57" y1="548.6" x2="968.57" y2="557.4" stroke="#7f7f85" stroke-width="1.3"/>
<line x1="965.37" y1="548.6" x2="971.77" y2="548.6" stroke="#7f7f85" stroke-width="1.25"/>
<line x1="965.37" y1="557.4" x2="971.77" y2="557.4" stroke="#7f7f85" stroke-width="1.25"/>
<rect x="999.44" y="495.6" width="11.6" height="84.7" fill="#231f20"/>
<line x1="1005.24" y1="491.6" x2="1005.24" y2="498" stroke="#7f7f85" stroke-width="1.3"/>
<line x1="1002.04" y1="491.6" x2="1008.44" y2="491.6" stroke="#7f7f85" stroke-width="1.25"/>
<line x1="1002.04" y1="498" x2="1008.44" y2="498" stroke="#7f7f85" stroke-width="1.25"/>
<rect x="1015.19" y="508.65" width="9.8" height="71.65" fill="#fff" stroke="#3a3a3c" stroke-width="1.45"/>
<line x1="1020.09" y1="503.6" x2="1020.09" y2="512.4" stroke="#7f7f85" stroke-width="1.3"/>
<line x1="1016.89" y1="503.6" x2="1023.29" y2="503.6" stroke="#7f7f85" stroke-width="1.25"/>
<line x1="1016.89" y1="512.4" x2="1023.29" y2="512.4" stroke="#7f7f85" stroke-width="1.25"/>
<rect x="1052.02" y="462.4" width="11.6" height="117.9" fill="#231f20"/>
<line x1="1057.82" y1="456.6" x2="1057.82" y2="466" stroke="#7f7f85" stroke-width="1.3"/>
<line x1="1054.62" y1="456.6" x2="1061.02" y2="456.6" stroke="#7f7f85" stroke-width="1.25"/>
<line x1="1054.62" y1="466" x2="1061.02" y2="466" stroke="#7f7f85" stroke-width="1.25"/>
<rect x="1066.67" y="404.65" width="11.1" height="175.65" fill="#fff" stroke="#3a3a3c" stroke-width="1.45"/>
<line x1="1072.22" y1="403" x2="1072.22" y2="405" stroke="#7f7f85" stroke-width="1.3"/>
<line x1="1069.02" y1="403" x2="1075.42" y2="403" stroke="#7f7f85" stroke-width="1.25"/>
<line x1="1069.02" y1="405" x2="1075.42" y2="405" stroke="#7f7f85" stroke-width="1.25"/>
<path d="M620.15 338.3 H1091.5 V580.3" fill="none" stroke="#231f20" stroke-width="1.5"/>
<line x1="621" y1="337.55" x2="621" y2="586.2" stroke="#3c3a3b" stroke-width="1.7"/>
<line x1="615.6" y1="580.3" x2="1092.25" y2="580.3" stroke="#231f20" stroke-width="1.4"/>
<line x1="673.28" y1="580.3" x2="673.28" y2="586.2" stroke="#231f20" stroke-width="1.4"/>
<line x1="725.56" y1="580.3" x2="725.56" y2="586.2" stroke="#231f20" stroke-width="1.4"/>
<line x1="777.83" y1="580.3" x2="777.83" y2="586.2" stroke="#231f20" stroke-width="1.4"/>
<line x1="830.11" y1="580.3" x2="830.11" y2="586.2" stroke="#231f20" stroke-width="1.4"/>
<line x1="882.39" y1="580.3" x2="882.39" y2="586.2" stroke="#231f20" stroke-width="1.4"/>
<line x1="934.67" y1="580.3" x2="934.67" y2="586.2" stroke="#231f20" stroke-width="1.4"/>
<line x1="986.94" y1="580.3" x2="986.94" y2="586.2" stroke="#231f20" stroke-width="1.4"/>
<line x1="1039.22" y1="580.3" x2="1039.22" y2="586.2" stroke="#231f20" stroke-width="1.4"/>
<line x1="1091.5" y1="580.3" x2="1091.5" y2="586.2" stroke="#231f20" stroke-width="1.4"/>
<line x1="615.6" y1="580.3" x2="621" y2="580.3" stroke="#3c3a3b" stroke-width="1.53"/>
<text x="606" y="585.3" font-size="16.3" text-anchor="end" font-weight="bold" fill="#1a1a1a" stroke="#1a1a1a" stroke-width="0.3">0</text>
<line x1="615.6" y1="541" x2="621" y2="541" stroke="#3c3a3b" stroke-width="1.53"/>
<text x="606" y="546" font-size="16.3" text-anchor="end" font-weight="bold" fill="#1a1a1a" stroke="#1a1a1a" stroke-width="0.3">100</text>
<line x1="615.6" y1="501.5" x2="621" y2="501.5" stroke="#3c3a3b" stroke-width="1.53"/>
<text x="606" y="506.5" font-size="16.3" text-anchor="end" font-weight="bold" fill="#1a1a1a" stroke="#1a1a1a" stroke-width="0.3">200</text>
<line x1="615.6" y1="461.8" x2="621" y2="461.8" stroke="#3c3a3b" stroke-width="1.53"/>
<text x="606" y="466.8" font-size="16.3" text-anchor="end" font-weight="bold" fill="#1a1a1a" stroke="#1a1a1a" stroke-width="0.3">300</text>
<line x1="615.6" y1="422.3" x2="621" y2="422.3" stroke="#3c3a3b" stroke-width="1.53"/>
<text x="606" y="427.3" font-size="16.3" text-anchor="end" font-weight="bold" fill="#1a1a1a" stroke="#1a1a1a" stroke-width="0.3">400</text>
<line x1="615.6" y1="383" x2="621" y2="383" stroke="#3c3a3b" stroke-width="1.53"/>
<text x="606" y="388" font-size="16.3" text-anchor="end" font-weight="bold" fill="#1a1a1a" stroke="#1a1a1a" stroke-width="0.3">500</text>
<line x1="615.6" y1="343.2" x2="621" y2="343.2" stroke="#3c3a3b" stroke-width="1.53"/>
<text x="606" y="348.2" font-size="16.3" text-anchor="end" font-weight="bold" fill="#1a1a1a" stroke="#1a1a1a" stroke-width="0.3">600</text>
<text x="647.64" y="607.5" font-size="17.8" text-anchor="middle" font-weight="bold" fill="#1a1a1a" stroke="#1a1a1a" stroke-width="0.3">0</text>
<text x="699.92" y="607.5" font-size="17.8" text-anchor="middle" font-weight="bold" fill="#1a1a1a" stroke="#1a1a1a" stroke-width="0.3">0.4</text>
<text x="752.19" y="607.5" font-size="17.8" text-anchor="middle" font-weight="bold" fill="#1a1a1a" stroke="#1a1a1a" stroke-width="0.3">0.9</text>
<text x="804.47" y="607.5" font-size="17.8" text-anchor="middle" font-weight="bold" fill="#1a1a1a" stroke="#1a1a1a" stroke-width="0.3">1.8</text>
<text x="856.75" y="607.5" font-size="17.8" text-anchor="middle" font-weight="bold" fill="#1a1a1a" stroke="#1a1a1a" stroke-width="0.3">3.5</text>
<text x="909.03" y="607.5" font-size="17.8" text-anchor="middle" font-weight="bold" fill="#1a1a1a" stroke="#1a1a1a" stroke-width="0.3">7</text>
<text x="961.31" y="607.5" font-size="17.8" text-anchor="middle" font-weight="bold" fill="#1a1a1a" stroke="#1a1a1a" stroke-width="0.3">14</text>
<text x="1013.58" y="607.5" font-size="17.8" text-anchor="middle" font-weight="bold" fill="#1a1a1a" stroke="#1a1a1a" stroke-width="0.3">28</text>
<text x="1065.86" y="607.5" font-size="17.8" text-anchor="middle" font-weight="bold" fill="#1a1a1a" stroke="#1a1a1a" stroke-width="0.3">56</text>
<text x="856.2" y="631" font-size="17.9" text-anchor="middle" font-weight="bold" fill="#1a1a1a" stroke="#1a1a1a" stroke-width="0.3">Boron (mg.L<tspan font-size="10.4" dy="-6.8">-1</tspan><tspan dy="6.8">)</tspan></text>
<text transform="translate(559.6 465.6) rotate(-90)" font-size="18.7" font-weight="bold" text-anchor="middle" fill="#1a1a1a" stroke="#1a1a1a" stroke-width="0.3">Starch (µg.mg DW<tspan font-size="10.4" dx="-1.2" dy="-6.8">-1</tspan><tspan dy="6.8" dx="-0.4">)</tspan></text>
<text x="543.4" y="334" font-size="28.6" text-anchor="start" font-weight="bold" fill="#111" stroke="#111" stroke-width="0.5">E</text>
<text x="1078.6" y="352.6" font-size="15" text-anchor="end" font-weight="bold" fill="#1a1a1a" stroke="#1a1a1a" stroke-width="0.3">p<tspan font-size="9.6" dx="0.4" dy="3">7d</tspan><tspan dy="-3"> =</tspan> 0.000</text>
<text x="1079.9" y="370.6" font-size="15" text-anchor="end" font-weight="bold" fill="#1a1a1a" stroke="#1a1a1a" stroke-width="0.3">p<tspan font-size="9.6" dx="0.4" dy="3">10d</tspan><tspan dy="-3"> =</tspan> 0.000</text>
<text x="637.4" y="548.6" font-size="14.2" text-anchor="middle" fill="#383838" stroke="#383838" stroke-width="0.2">a</text>
<text x="654.4" y="562.4" font-size="14.2" text-anchor="middle" fill="#383838" stroke="#383838" stroke-width="0.2">A</text>
<text x="689.6" y="544.4" font-size="14.2" text-anchor="middle" fill="#383838" stroke="#383838" stroke-width="0.2">a</text>
<text x="705" y="561" font-size="14.2" text-anchor="middle" fill="#383838" stroke="#383838" stroke-width="0.2">A</text>
<text x="742.4" y="532.4" font-size="14.2" text-anchor="middle" fill="#383838" stroke="#383838" stroke-width="0.2">a</text>
<text x="757.6" y="548.6" font-size="14.2" text-anchor="middle" fill="#383838" stroke="#383838" stroke-width="0.2">A</text>
<text x="794" y="541" font-size="14.2" text-anchor="middle" fill="#383838" stroke="#383838" stroke-width="0.2">a</text>
<text x="809.6" y="558.4" font-size="14.2" text-anchor="middle" fill="#383838" stroke="#383838" stroke-width="0.2">A</text>
<text x="847.6" y="532.4" font-size="14.2" text-anchor="middle" fill="#383838" stroke="#383838" stroke-width="0.2">a</text>
<text x="862.6" y="535" font-size="14.2" text-anchor="middle" fill="#383838" stroke="#383838" stroke-width="0.2">A</text>
<text x="899" y="539.4" font-size="14.2" text-anchor="middle" fill="#383838" stroke="#383838" stroke-width="0.2">a</text>
<text x="913.4" y="543" font-size="14.2" text-anchor="middle" fill="#383838" stroke="#383838" stroke-width="0.2">A</text>
<text x="951.6" y="531" font-size="14.2" text-anchor="middle" fill="#383838" stroke="#383838" stroke-width="0.2">a</text>
<text x="966.4" y="543" font-size="14.2" text-anchor="middle" fill="#383838" stroke="#383838" stroke-width="0.2">A</text>
<text x="1004" y="486" font-size="14.2" text-anchor="middle" fill="#383838" stroke="#383838" stroke-width="0.2">b</text>
<text x="1018.6" y="496.6" font-size="14.2" text-anchor="middle" fill="#383838" stroke="#383838" stroke-width="0.2">B</text>
<text x="1055.4" y="451.6" font-size="14.2" text-anchor="middle" fill="#383838" stroke="#383838" stroke-width="0.2">c</text>
<text x="1070" y="397" font-size="14.2" text-anchor="middle" fill="#383838" stroke="#383838" stroke-width="0.2">C</text>
<path d="M638.6 534.9 V532.4 Q638.6 531 640 531 L655.6 531 Q657 531 657 532.4 V534.9" fill="none" stroke="#4e4e4e" stroke-width="1.25"/>
<line x1="647.8" y1="531" x2="647.8" y2="526.8" stroke="#4e4e4e" stroke-width="1.25"/>
<text x="647.8" y="533.08" font-size="17" text-anchor="middle" fill="#262626">*</text>
<path d="M689.6 530.3 V527.8 Q689.6 526.4 691 526.4 L707.6 526.4 Q709 526.4 709 527.8 V530.3" fill="none" stroke="#4e4e4e" stroke-width="1.25"/>
<line x1="699.3" y1="526.4" x2="699.3" y2="522.2" stroke="#4e4e4e" stroke-width="1.25"/>
<text x="699.3" y="528.78" font-size="17" text-anchor="middle" fill="#262626">*</text>
<path d="M745 520.9 V518.4 Q745 517 746.4 517 L762.2 517 Q763.6 517 763.6 518.4 V520.9" fill="none" stroke="#4e4e4e" stroke-width="1.25"/>
<line x1="754.3" y1="517" x2="754.3" y2="512.8" stroke="#4e4e4e" stroke-width="1.25"/>
<text x="754.3" y="517.88" font-size="17" text-anchor="middle" fill="#262626">*</text>
<path d="M793 526.9 V524.4 Q793 523 794.4 523 L811 523 Q812.4 523 812.4 524.4 V526.9" fill="none" stroke="#4e4e4e" stroke-width="1.25"/>
<line x1="802.7" y1="523" x2="802.7" y2="518.8" stroke="#4e4e4e" stroke-width="1.25"/>
<text x="802.7" y="523.88" font-size="17" text-anchor="middle" fill="#262626">*</text>
<path d="M848.4 514.9 V512.4 Q848.4 511 849.8 511 L865 511 Q866.4 511 866.4 512.4 V514.9" fill="none" stroke="#4e4e4e" stroke-width="1.25"/>
<line x1="857.4" y1="511" x2="857.4" y2="506.8" stroke="#4e4e4e" stroke-width="1.25"/>
<text x="857.4" y="512.08" font-size="17" text-anchor="middle" fill="#262626">*</text>
<path d="M955 511.9 V509.4 Q955 508 956.4 508 L972 508 Q973.4 508 973.4 509.4 V511.9" fill="none" stroke="#4e4e4e" stroke-width="1.25"/>
<line x1="964.2" y1="508" x2="964.2" y2="503.8" stroke="#4e4e4e" stroke-width="1.25"/>
<text x="964.2" y="508.88" font-size="17" text-anchor="middle" fill="#262626">*</text>
<path d="M1002.6 466.5 V464 Q1002.6 462.6 1004 462.6 L1021 462.6 Q1022.4 462.6 1022.4 464 V466.5" fill="none" stroke="#4e4e4e" stroke-width="1.25"/>
<line x1="1012.5" y1="462.6" x2="1012.5" y2="458.4" stroke="#4e4e4e" stroke-width="1.25"/>
<text x="1012.5" y="463.88" font-size="17" text-anchor="middle" fill="#262626">*</text>
<path d="M1049.6 385.9 V383.4 Q1049.6 382 1051 382 L1067.2 382 Q1068.6 382 1068.6 383.4 V385.9" fill="none" stroke="#4e4e4e" stroke-width="1.25"/>
<line x1="1059.1" y1="382" x2="1059.1" y2="377.8" stroke="#4e4e4e" stroke-width="1.25"/>
<text x="1059.1" y="382.88" font-size="17" text-anchor="middle" fill="#262626">*</text>
</g>
</svg>
</body>
</html>
